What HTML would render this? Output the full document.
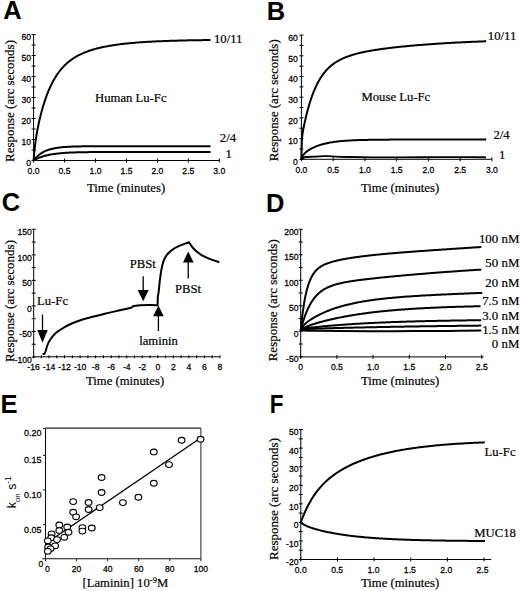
<!DOCTYPE html>
<html><head><meta charset="utf-8"><title>Figure</title>
<style>
html,body{margin:0;padding:0;background:#fff;}
body{width:520px;height:591px;overflow:hidden;}
svg{display:block;}
text{fill:#000;}
.tk{stroke:#000;stroke-width:0.25px;}
.sf{stroke:#000;stroke-width:0.2px;}
</style></head>
<body>
<svg width="520" height="591" viewBox="0 0 520 591">
<rect width="520" height="591" fill="#fff"/>
<text x="3.3" y="19" font-size="25.5" font-family='"Liberation Sans", sans-serif' font-weight="bold">A</text>
<line x1="33.6" y1="34.5" x2="33.6" y2="160.5" stroke="#000" stroke-width="1"/>
<line x1="31.6" y1="160.5" x2="35.6" y2="160.5" stroke="#000" stroke-width="1"/>
<line x1="31.6" y1="150" x2="35.6" y2="150" stroke="#000" stroke-width="1"/>
<line x1="31.6" y1="139.5" x2="35.6" y2="139.5" stroke="#000" stroke-width="1"/>
<line x1="31.6" y1="129" x2="35.6" y2="129" stroke="#000" stroke-width="1"/>
<line x1="31.6" y1="118.5" x2="35.6" y2="118.5" stroke="#000" stroke-width="1"/>
<line x1="31.6" y1="108" x2="35.6" y2="108" stroke="#000" stroke-width="1"/>
<line x1="31.6" y1="97.5" x2="35.6" y2="97.5" stroke="#000" stroke-width="1"/>
<line x1="31.6" y1="87" x2="35.6" y2="87" stroke="#000" stroke-width="1"/>
<line x1="31.6" y1="76.5" x2="35.6" y2="76.5" stroke="#000" stroke-width="1"/>
<line x1="31.6" y1="66" x2="35.6" y2="66" stroke="#000" stroke-width="1"/>
<line x1="31.6" y1="55.5" x2="35.6" y2="55.5" stroke="#000" stroke-width="1"/>
<line x1="31.6" y1="45" x2="35.6" y2="45" stroke="#000" stroke-width="1"/>
<line x1="31.6" y1="34.5" x2="35.6" y2="34.5" stroke="#000" stroke-width="1"/>
<text transform="translate(31.1 166.2) scale(1 1.1)" x="0" y="0" font-size="8.6" font-family='"Liberation Sans", sans-serif' class="tk" text-anchor="end">0</text>
<text transform="translate(31.1 145.2) scale(1 1.1)" x="0" y="0" font-size="8.6" font-family='"Liberation Sans", sans-serif' class="tk" text-anchor="end">10</text>
<text transform="translate(31.1 124.2) scale(1 1.1)" x="0" y="0" font-size="8.6" font-family='"Liberation Sans", sans-serif' class="tk" text-anchor="end">20</text>
<text transform="translate(31.1 103.2) scale(1 1.1)" x="0" y="0" font-size="8.6" font-family='"Liberation Sans", sans-serif' class="tk" text-anchor="end">30</text>
<text transform="translate(31.1 82.2) scale(1 1.1)" x="0" y="0" font-size="8.6" font-family='"Liberation Sans", sans-serif' class="tk" text-anchor="end">40</text>
<text transform="translate(31.1 61.2) scale(1 1.1)" x="0" y="0" font-size="8.6" font-family='"Liberation Sans", sans-serif' class="tk" text-anchor="end">50</text>
<text transform="translate(31.1 40.2) scale(1 1.1)" x="0" y="0" font-size="8.6" font-family='"Liberation Sans", sans-serif' class="tk" text-anchor="end">60</text>
<line x1="33.6" y1="160.5" x2="219.3" y2="160.5" stroke="#000" stroke-width="1"/>
<line x1="33.6" y1="158.5" x2="33.6" y2="162.5" stroke="#000" stroke-width="1"/>
<line x1="64.55" y1="158.5" x2="64.55" y2="162.5" stroke="#000" stroke-width="1"/>
<line x1="95.5" y1="158.5" x2="95.5" y2="162.5" stroke="#000" stroke-width="1"/>
<line x1="126.45" y1="158.5" x2="126.45" y2="162.5" stroke="#000" stroke-width="1"/>
<line x1="157.4" y1="158.5" x2="157.4" y2="162.5" stroke="#000" stroke-width="1"/>
<line x1="188.35" y1="158.5" x2="188.35" y2="162.5" stroke="#000" stroke-width="1"/>
<line x1="219.3" y1="158.5" x2="219.3" y2="162.5" stroke="#000" stroke-width="1"/>
<text transform="translate(33.6 174.4) scale(1 1.1)" x="0" y="0" font-size="8.6" font-family='"Liberation Sans", sans-serif' class="tk" text-anchor="middle">0.0</text>
<text transform="translate(64.55 174.4) scale(1 1.1)" x="0" y="0" font-size="8.6" font-family='"Liberation Sans", sans-serif' class="tk" text-anchor="middle">0.5</text>
<text transform="translate(95.5 174.4) scale(1 1.1)" x="0" y="0" font-size="8.6" font-family='"Liberation Sans", sans-serif' class="tk" text-anchor="middle">1.0</text>
<text transform="translate(126.45 174.4) scale(1 1.1)" x="0" y="0" font-size="8.6" font-family='"Liberation Sans", sans-serif' class="tk" text-anchor="middle">1.5</text>
<text transform="translate(157.4 174.4) scale(1 1.1)" x="0" y="0" font-size="8.6" font-family='"Liberation Sans", sans-serif' class="tk" text-anchor="middle">2.0</text>
<text transform="translate(188.35 174.4) scale(1 1.1)" x="0" y="0" font-size="8.6" font-family='"Liberation Sans", sans-serif' class="tk" text-anchor="middle">2.5</text>
<text transform="translate(219.3 174.4) scale(1 1.1)" x="0" y="0" font-size="8.6" font-family='"Liberation Sans", sans-serif' class="tk" text-anchor="middle">3.0</text>
<text x="13.7" y="162" font-size="13" font-family='"Liberation Serif", serif' class="sf" transform="rotate(-90 13.7 162)">Response (arc seconds)</text>
<text x="87" y="192.2" font-size="12.7" font-family='"Liberation Serif", serif' class="sf">Time (minutes)</text>
<text x="95" y="101.6" font-size="12.7" font-family='"Liberation Serif", serif' class="sf">Human Lu-Fc</text>
<text x="214" y="43" font-size="12.7" font-family='"Liberation Serif", serif' class="sf">10/11</text>
<text x="219.8" y="142.4" font-size="12.7" font-family='"Liberation Serif", serif' class="sf">2/4</text>
<text x="225.5" y="158" font-size="12.7" font-family='"Liberation Serif", serif' class="sf">1</text>
<path d="M33.6,160.5 L33.81,157.77 L34.03,155.25 L34.24,152.91 L34.45,150.73 L34.67,148.7 L34.88,146.79 L35.09,144.99 L35.31,143.28 L35.52,141.67 L35.73,140.13 L35.95,138.66 L36.16,137.25 L36.37,135.89 L36.59,134.59 L36.8,133.33 L37.02,132.11 L37.23,130.92 L37.44,129.77 L37.66,128.65 L37.87,127.56 L38.08,126.5 L38.3,125.45 L38.51,124.43 L38.72,123.44 L38.94,122.46 L39.15,121.5 L39.36,120.56 L39.58,119.63 L39.79,118.72 L40.86,114.37 L41.94,110.34 L43.01,106.59 L44.08,103.09 L45.16,99.82 L46.23,96.76 L47.31,93.89 L48.38,91.2 L49.45,88.67 L50.53,86.3 L51.6,84.08 L52.67,81.98 L53.75,80.01 L54.82,78.16 L55.89,76.42 L56.97,74.77 L58.04,73.22 L59.12,71.76 L60.19,70.38 L61.26,69.07 L62.34,67.84 L63.41,66.67 L64.48,65.57 L65.56,64.52 L66.63,63.53 L67.7,62.59 L68.78,61.7 L69.85,60.85 L70.93,60.04 L72,59.27 L73.07,58.54 L74.15,57.85 L75.22,57.18 L76.29,56.55 L77.37,55.95 L78.44,55.37 L79.51,54.82 L80.59,54.3 L81.66,53.79 L82.74,53.31 L83.81,52.85 L84.88,52.41 L85.96,51.98 L87.03,51.58 L88.1,51.19 L89.18,50.81 L90.25,50.45 L91.33,50.11 L92.4,49.77 L93.47,49.45 L94.55,49.14 L95.62,48.85 L96.69,48.56 L97.77,48.29 L98.84,48.02 L99.91,47.76 L100.99,47.52 L102.06,47.28 L103.14,47.05 L104.21,46.82 L105.28,46.61 L106.36,46.4 L107.43,46.2 L108.5,46.01 L109.58,45.82 L110.65,45.64 L111.72,45.46 L112.8,45.29 L113.87,45.12 L114.95,44.97 L116.02,44.81 L117.09,44.66 L118.17,44.52 L119.24,44.37 L120.31,44.24 L121.39,44.11 L122.46,43.98 L123.53,43.85 L124.61,43.73 L125.68,43.61 L126.76,43.5 L127.83,43.39 L128.9,43.28 L129.98,43.18 L131.05,43.08 L132.12,42.98 L133.2,42.89 L134.27,42.79 L135.34,42.7 L136.42,42.62 L137.49,42.53 L138.57,42.45 L139.64,42.37 L140.71,42.29 L141.79,42.22 L142.86,42.15 L143.93,42.07 L145.01,42 L146.08,41.94 L147.15,41.87 L148.23,41.81 L149.3,41.75 L150.38,41.69 L151.45,41.63 L152.52,41.57 L153.6,41.52 L154.67,41.46 L155.74,41.41 L156.82,41.36 L157.89,41.31 L158.96,41.26 L160.04,41.22 L161.11,41.17 L162.19,41.13 L163.26,41.09 L164.33,41.05 L165.41,41 L166.48,40.97 L167.55,40.93 L168.63,40.89 L169.7,40.85 L170.78,40.82 L171.85,40.78 L172.92,40.75 L174,40.72 L175.07,40.69 L176.14,40.66 L177.22,40.63 L178.29,40.6 L179.36,40.57 L180.44,40.54 L181.51,40.52 L182.59,40.49 L183.66,40.47 L184.73,40.44 L185.81,40.42 L186.88,40.39 L187.95,40.37 L189.03,40.35 L190.1,40.33 L191.17,40.31 L192.25,40.29 L193.32,40.27 L194.4,40.25 L195.47,40.23 L196.54,40.21 L197.62,40.19 L198.69,40.18 L199.76,40.16 L200.84,40.14 L201.91,40.13 L202.98,40.11 L204.06,40.1 L205.13,40.08 L206.21,40.07 L207.28,40.06 L208.35,40.04 L209.43,40.03 L210.5,40.02" fill="none" stroke="#000" stroke-width="2" stroke-linejoin="round" stroke-linecap="butt"/>
<path d="M33.6,160.5 L33.81,160.22 L34.03,159.95 L34.24,159.68 L34.45,159.42 L34.67,159.17 L34.88,158.92 L35.09,158.67 L35.31,158.43 L35.52,158.19 L35.73,157.96 L35.95,157.73 L36.16,157.51 L36.37,157.29 L36.59,157.07 L36.8,156.86 L37.02,156.65 L37.23,156.45 L37.44,156.25 L37.66,156.06 L37.87,155.87 L38.08,155.68 L38.3,155.5 L38.51,155.32 L38.72,155.14 L38.94,154.97 L39.15,154.8 L39.36,154.63 L39.58,154.46 L39.79,154.3 L40.86,153.54 L41.94,152.85 L43.01,152.23 L44.08,151.66 L45.16,151.15 L46.23,150.69 L47.31,150.26 L48.38,149.88 L49.45,149.54 L50.53,149.22 L51.6,148.94 L52.67,148.68 L53.75,148.45 L54.82,148.23 L55.89,148.04 L56.97,147.87 L58.04,147.71 L59.12,147.57 L60.19,147.44 L61.26,147.32 L62.34,147.21 L63.41,147.12 L64.48,147.03 L65.56,146.95 L66.63,146.88 L67.7,146.81 L68.78,146.76 L69.85,146.7 L70.93,146.65 L72,146.61 L73.07,146.57 L74.15,146.53 L75.22,146.5 L76.29,146.47 L77.37,146.44 L78.44,146.42 L79.51,146.4 L80.59,146.38 L81.66,146.36 L82.74,146.34 L83.81,146.33 L84.88,146.32 L85.96,146.3 L87.03,146.29 L88.1,146.28 L89.18,146.27 L90.25,146.26 L91.33,146.26 L92.4,146.25 L93.47,146.24 L94.55,146.24 L95.62,146.23 L96.69,146.23 L97.77,146.23 L98.84,146.22 L99.91,146.22 L100.99,146.21 L102.06,146.21 L103.14,146.21 L104.21,146.21 L105.28,146.21 L106.36,146.2 L107.43,146.2 L108.5,146.2 L109.58,146.2 L110.65,146.2 L111.72,146.2 L112.8,146.2 L113.87,146.19 L114.95,146.19 L116.02,146.19 L117.09,146.19 L118.17,146.19 L119.24,146.19 L120.31,146.19 L121.39,146.19 L122.46,146.19 L123.53,146.19 L124.61,146.19 L125.68,146.19 L126.76,146.19 L127.83,146.19 L128.9,146.19 L129.98,146.19 L131.05,146.19 L132.12,146.19 L133.2,146.19 L134.27,146.19 L135.34,146.19 L136.42,146.19 L137.49,146.19 L138.57,146.19 L139.64,146.19 L140.71,146.19 L141.79,146.19 L142.86,146.19 L143.93,146.19 L145.01,146.19 L146.08,146.19 L147.15,146.19 L148.23,146.19 L149.3,146.19 L150.38,146.19 L151.45,146.19 L152.52,146.19 L153.6,146.19 L154.67,146.19 L155.74,146.19 L156.82,146.19 L157.89,146.19 L158.96,146.19 L160.04,146.19 L161.11,146.19 L162.19,146.19 L163.26,146.19 L164.33,146.19 L165.41,146.19 L166.48,146.19 L167.55,146.19 L168.63,146.19 L169.7,146.19 L170.78,146.19 L171.85,146.18 L172.92,146.18 L174,146.18 L175.07,146.18 L176.14,146.18 L177.22,146.18 L178.29,146.18 L179.36,146.18 L180.44,146.18 L181.51,146.18 L182.59,146.18 L183.66,146.18 L184.73,146.18 L185.81,146.18 L186.88,146.18 L187.95,146.18 L189.03,146.18 L190.1,146.18 L191.17,146.18 L192.25,146.18 L193.32,146.18 L194.4,146.18 L195.47,146.18 L196.54,146.18 L197.62,146.18 L198.69,146.18 L199.76,146.18 L200.84,146.18 L201.91,146.18 L202.98,146.18 L204.06,146.18 L205.13,146.18 L206.21,146.18 L207.28,146.18 L208.35,146.18 L209.43,146.18 L210.5,146.18" fill="none" stroke="#000" stroke-width="2" stroke-linejoin="round" stroke-linecap="butt"/>
<path d="M33.6,160.5 L33.81,160.37 L34.03,160.25 L34.24,160.13 L34.45,160.01 L34.67,159.89 L34.88,159.77 L35.09,159.65 L35.31,159.54 L35.52,159.43 L35.73,159.32 L35.95,159.21 L36.16,159.1 L36.37,159 L36.59,158.89 L36.8,158.79 L37.02,158.69 L37.23,158.59 L37.44,158.49 L37.66,158.39 L37.87,158.3 L38.08,158.21 L38.3,158.11 L38.51,158.02 L38.72,157.93 L38.94,157.84 L39.15,157.76 L39.36,157.67 L39.58,157.59 L39.79,157.5 L40.86,157.1 L41.94,156.73 L43.01,156.39 L44.08,156.07 L45.16,155.77 L46.23,155.49 L47.31,155.24 L48.38,155 L49.45,154.78 L50.53,154.57 L51.6,154.38 L52.67,154.21 L53.75,154.04 L54.82,153.89 L55.89,153.75 L56.97,153.62 L58.04,153.5 L59.12,153.39 L60.19,153.28 L61.26,153.19 L62.34,153.1 L63.41,153.01 L64.48,152.93 L65.56,152.86 L66.63,152.8 L67.7,152.73 L68.78,152.68 L69.85,152.62 L70.93,152.57 L72,152.53 L73.07,152.49 L74.15,152.45 L75.22,152.41 L76.29,152.37 L77.37,152.34 L78.44,152.31 L79.51,152.29 L80.59,152.26 L81.66,152.24 L82.74,152.22 L83.81,152.2 L84.88,152.18 L85.96,152.16 L87.03,152.14 L88.1,152.13 L89.18,152.11 L90.25,152.1 L91.33,152.09 L92.4,152.08 L93.47,152.07 L94.55,152.06 L95.62,152.05 L96.69,152.04 L97.77,152.03 L98.84,152.03 L99.91,152.02 L100.99,152.01 L102.06,152.01 L103.14,152 L104.21,152 L105.28,151.99 L106.36,151.99 L107.43,151.99 L108.5,151.98 L109.58,151.98 L110.65,151.98 L111.72,151.97 L112.8,151.97 L113.87,151.97 L114.95,151.96 L116.02,151.96 L117.09,151.96 L118.17,151.96 L119.24,151.96 L120.31,151.96 L121.39,151.95 L122.46,151.95 L123.53,151.95 L124.61,151.95 L125.68,151.95 L126.76,151.95 L127.83,151.95 L128.9,151.95 L129.98,151.95 L131.05,151.94 L132.12,151.94 L133.2,151.94 L134.27,151.94 L135.34,151.94 L136.42,151.94 L137.49,151.94 L138.57,151.94 L139.64,151.94 L140.71,151.94 L141.79,151.94 L142.86,151.94 L143.93,151.94 L145.01,151.94 L146.08,151.94 L147.15,151.94 L148.23,151.94 L149.3,151.94 L150.38,151.94 L151.45,151.94 L152.52,151.94 L153.6,151.94 L154.67,151.94 L155.74,151.94 L156.82,151.94 L157.89,151.94 L158.96,151.94 L160.04,151.94 L161.11,151.94 L162.19,151.94 L163.26,151.94 L164.33,151.94 L165.41,151.94 L166.48,151.94 L167.55,151.94 L168.63,151.94 L169.7,151.94 L170.78,151.94 L171.85,151.94 L172.92,151.94 L174,151.94 L175.07,151.94 L176.14,151.94 L177.22,151.94 L178.29,151.94 L179.36,151.94 L180.44,151.94 L181.51,151.94 L182.59,151.94 L183.66,151.94 L184.73,151.94 L185.81,151.94 L186.88,151.94 L187.95,151.94 L189.03,151.94 L190.1,151.94 L191.17,151.94 L192.25,151.94 L193.32,151.94 L194.4,151.94 L195.47,151.94 L196.54,151.94 L197.62,151.94 L198.69,151.94 L199.76,151.94 L200.84,151.94 L201.91,151.94 L202.98,151.94 L204.06,151.94 L205.13,151.94 L206.21,151.94 L207.28,151.94 L208.35,151.94 L209.43,151.94 L210.5,151.94" fill="none" stroke="#000" stroke-width="2" stroke-linejoin="round" stroke-linecap="butt"/>
<text x="266.7" y="20" font-size="25.5" font-family='"Liberation Sans", sans-serif' font-weight="bold">B</text>
<line x1="301.4" y1="35.1" x2="301.4" y2="159.3" stroke="#000" stroke-width="1"/>
<line x1="299.4" y1="159.3" x2="303.4" y2="159.3" stroke="#000" stroke-width="1"/>
<line x1="299.4" y1="148.95" x2="303.4" y2="148.95" stroke="#000" stroke-width="1"/>
<line x1="299.4" y1="138.6" x2="303.4" y2="138.6" stroke="#000" stroke-width="1"/>
<line x1="299.4" y1="128.25" x2="303.4" y2="128.25" stroke="#000" stroke-width="1"/>
<line x1="299.4" y1="117.9" x2="303.4" y2="117.9" stroke="#000" stroke-width="1"/>
<line x1="299.4" y1="107.55" x2="303.4" y2="107.55" stroke="#000" stroke-width="1"/>
<line x1="299.4" y1="97.2" x2="303.4" y2="97.2" stroke="#000" stroke-width="1"/>
<line x1="299.4" y1="86.85" x2="303.4" y2="86.85" stroke="#000" stroke-width="1"/>
<line x1="299.4" y1="76.5" x2="303.4" y2="76.5" stroke="#000" stroke-width="1"/>
<line x1="299.4" y1="66.15" x2="303.4" y2="66.15" stroke="#000" stroke-width="1"/>
<line x1="299.4" y1="55.8" x2="303.4" y2="55.8" stroke="#000" stroke-width="1"/>
<line x1="299.4" y1="45.45" x2="303.4" y2="45.45" stroke="#000" stroke-width="1"/>
<line x1="299.4" y1="35.1" x2="303.4" y2="35.1" stroke="#000" stroke-width="1"/>
<text transform="translate(297.9 165) scale(1 1.1)" x="0" y="0" font-size="8.6" font-family='"Liberation Sans", sans-serif' class="tk" text-anchor="end">0</text>
<text transform="translate(297.9 144.3) scale(1 1.1)" x="0" y="0" font-size="8.6" font-family='"Liberation Sans", sans-serif' class="tk" text-anchor="end">10</text>
<text transform="translate(297.9 123.6) scale(1 1.1)" x="0" y="0" font-size="8.6" font-family='"Liberation Sans", sans-serif' class="tk" text-anchor="end">20</text>
<text transform="translate(297.9 102.9) scale(1 1.1)" x="0" y="0" font-size="8.6" font-family='"Liberation Sans", sans-serif' class="tk" text-anchor="end">30</text>
<text transform="translate(297.9 82.2) scale(1 1.1)" x="0" y="0" font-size="8.6" font-family='"Liberation Sans", sans-serif' class="tk" text-anchor="end">40</text>
<text transform="translate(297.9 61.5) scale(1 1.1)" x="0" y="0" font-size="8.6" font-family='"Liberation Sans", sans-serif' class="tk" text-anchor="end">50</text>
<text transform="translate(297.9 40.8) scale(1 1.1)" x="0" y="0" font-size="8.6" font-family='"Liberation Sans", sans-serif' class="tk" text-anchor="end">60</text>
<line x1="301.4" y1="159.3" x2="491.9" y2="159.3" stroke="#000" stroke-width="1"/>
<line x1="301.4" y1="157.3" x2="301.4" y2="161.3" stroke="#000" stroke-width="1"/>
<line x1="333.15" y1="157.3" x2="333.15" y2="161.3" stroke="#000" stroke-width="1"/>
<line x1="364.9" y1="157.3" x2="364.9" y2="161.3" stroke="#000" stroke-width="1"/>
<line x1="396.65" y1="157.3" x2="396.65" y2="161.3" stroke="#000" stroke-width="1"/>
<line x1="428.4" y1="157.3" x2="428.4" y2="161.3" stroke="#000" stroke-width="1"/>
<line x1="460.15" y1="157.3" x2="460.15" y2="161.3" stroke="#000" stroke-width="1"/>
<line x1="491.9" y1="157.3" x2="491.9" y2="161.3" stroke="#000" stroke-width="1"/>
<text transform="translate(301.4 173.3) scale(1 1.1)" x="0" y="0" font-size="8.6" font-family='"Liberation Sans", sans-serif' class="tk" text-anchor="middle">0.0</text>
<text transform="translate(333.15 173.3) scale(1 1.1)" x="0" y="0" font-size="8.6" font-family='"Liberation Sans", sans-serif' class="tk" text-anchor="middle">0.5</text>
<text transform="translate(364.9 173.3) scale(1 1.1)" x="0" y="0" font-size="8.6" font-family='"Liberation Sans", sans-serif' class="tk" text-anchor="middle">1.0</text>
<text transform="translate(396.65 173.3) scale(1 1.1)" x="0" y="0" font-size="8.6" font-family='"Liberation Sans", sans-serif' class="tk" text-anchor="middle">1.5</text>
<text transform="translate(428.4 173.3) scale(1 1.1)" x="0" y="0" font-size="8.6" font-family='"Liberation Sans", sans-serif' class="tk" text-anchor="middle">2.0</text>
<text transform="translate(460.15 173.3) scale(1 1.1)" x="0" y="0" font-size="8.6" font-family='"Liberation Sans", sans-serif' class="tk" text-anchor="middle">2.5</text>
<text transform="translate(491.9 173.3) scale(1 1.1)" x="0" y="0" font-size="8.6" font-family='"Liberation Sans", sans-serif' class="tk" text-anchor="middle">3.0</text>
<text x="278.3" y="161.3" font-size="13" font-family='"Liberation Serif", serif' class="sf" transform="rotate(-90 278.3 161.3)">Response (arc seconds)</text>
<text x="361" y="192.4" font-size="12.7" font-family='"Liberation Serif", serif' class="sf">Time (minutes)</text>
<text x="361.5" y="101.4" font-size="12.7" font-family='"Liberation Serif", serif' class="sf">Mouse Lu-Fc</text>
<text x="487.8" y="40.3" font-size="12.7" font-family='"Liberation Serif", serif' class="sf">10/11</text>
<text x="493.5" y="139.4" font-size="12.7" font-family='"Liberation Serif", serif' class="sf">2/4</text>
<text x="499" y="158.6" font-size="12.7" font-family='"Liberation Serif", serif' class="sf">1</text>
<path d="M301.4,159.3 L301.62,147.59 L301.84,141.42 L302.05,137.87 L302.27,135.58 L302.49,133.88 L302.71,132.48 L302.92,131.22 L303.14,130.04 L303.36,128.91 L303.58,127.81 L303.79,126.73 L304.01,125.67 L304.23,124.63 L304.45,123.61 L304.66,122.6 L304.88,121.6 L305.1,120.62 L305.32,119.66 L305.53,118.71 L305.75,117.77 L305.97,116.85 L306.19,115.94 L306.4,115.05 L306.62,114.17 L306.84,113.3 L307.06,112.44 L307.27,111.6 L307.49,110.77 L307.71,109.95 L308.83,105.93 L309.96,102.2 L311.08,98.75 L312.2,95.55 L313.32,92.58 L314.45,89.83 L315.57,87.28 L316.69,84.91 L317.81,82.71 L318.94,80.66 L320.06,78.76 L321.18,76.99 L322.3,75.34 L323.43,73.81 L324.55,72.38 L325.67,71.04 L326.79,69.79 L327.92,68.63 L329.04,67.53 L330.16,66.51 L331.28,65.55 L332.41,64.66 L333.53,63.81 L334.65,63.02 L335.77,62.27 L336.9,61.57 L338.02,60.91 L339.14,60.28 L340.26,59.69 L341.39,59.13 L342.51,58.6 L343.63,58.1 L344.76,57.62 L345.88,57.17 L347,56.73 L348.12,56.32 L349.25,55.93 L350.37,55.55 L351.49,55.2 L352.61,54.85 L353.74,54.52 L354.86,54.21 L355.98,53.9 L357.1,53.61 L358.23,53.33 L359.35,53.05 L360.47,52.79 L361.59,52.54 L362.72,52.29 L363.84,52.05 L364.96,51.82 L366.08,51.6 L367.21,51.38 L368.33,51.17 L369.45,50.97 L370.57,50.77 L371.7,50.57 L372.82,50.38 L373.94,50.2 L375.06,50.02 L376.19,49.84 L377.31,49.67 L378.43,49.5 L379.56,49.34 L380.68,49.18 L381.8,49.02 L382.92,48.86 L384.05,48.71 L385.17,48.56 L386.29,48.42 L387.41,48.27 L388.54,48.13 L389.66,47.99 L390.78,47.86 L391.9,47.72 L393.03,47.59 L394.15,47.46 L395.27,47.34 L396.39,47.21 L397.52,47.09 L398.64,46.97 L399.76,46.85 L400.88,46.73 L402.01,46.62 L403.13,46.5 L404.25,46.39 L405.37,46.28 L406.5,46.17 L407.62,46.06 L408.74,45.96 L409.86,45.85 L410.99,45.75 L412.11,45.65 L413.23,45.55 L414.35,45.45 L415.48,45.36 L416.6,45.26 L417.72,45.17 L418.85,45.07 L419.97,44.98 L421.09,44.89 L422.21,44.8 L423.34,44.72 L424.46,44.63 L425.58,44.54 L426.7,44.46 L427.83,44.38 L428.95,44.29 L430.07,44.21 L431.19,44.13 L432.32,44.05 L433.44,43.98 L434.56,43.9 L435.68,43.82 L436.81,43.75 L437.93,43.68 L439.05,43.6 L440.17,43.53 L441.3,43.46 L442.42,43.39 L443.54,43.32 L444.66,43.25 L445.79,43.19 L446.91,43.12 L448.03,43.06 L449.15,42.99 L450.28,42.93 L451.4,42.87 L452.52,42.8 L453.65,42.74 L454.77,42.68 L455.89,42.62 L457.01,42.56 L458.14,42.51 L459.26,42.45 L460.38,42.39 L461.5,42.34 L462.63,42.28 L463.75,42.23 L464.87,42.17 L465.99,42.12 L467.12,42.07 L468.24,42.02 L469.36,41.97 L470.48,41.92 L471.61,41.87 L472.73,41.82 L473.85,41.77 L474.97,41.72 L476.1,41.67 L477.22,41.63 L478.34,41.58 L479.46,41.54 L480.59,41.49 L481.71,41.45 L482.83,41.4 L483.95,41.36 L485.08,41.32 L486.2,41.28" fill="none" stroke="#000" stroke-width="2" stroke-linejoin="round" stroke-linecap="butt"/>
<path d="M301.4,159.3 L301.62,158.63 L301.84,158.03 L302.05,157.48 L302.27,156.98 L302.49,156.51 L302.71,156.09 L302.92,155.7 L303.14,155.33 L303.36,154.99 L303.58,154.67 L303.79,154.38 L304.01,154.1 L304.23,153.83 L304.45,153.58 L304.66,153.34 L304.88,153.11 L305.1,152.89 L305.32,152.69 L305.53,152.48 L305.75,152.29 L305.97,152.1 L306.19,151.92 L306.4,151.74 L306.62,151.57 L306.84,151.4 L307.06,151.24 L307.27,151.08 L307.49,150.92 L307.71,150.77 L308.83,150.03 L309.96,149.35 L311.08,148.72 L312.2,148.14 L313.32,147.59 L314.45,147.08 L315.57,146.61 L316.69,146.16 L317.81,145.74 L318.94,145.35 L320.06,144.98 L321.18,144.64 L322.3,144.31 L323.43,144.01 L324.55,143.73 L325.67,143.46 L326.79,143.21 L327.92,142.98 L329.04,142.76 L330.16,142.56 L331.28,142.37 L332.41,142.19 L333.53,142.02 L334.65,141.86 L335.77,141.71 L336.9,141.58 L338.02,141.45 L339.14,141.33 L340.26,141.21 L341.39,141.11 L342.51,141.01 L343.63,140.91 L344.76,140.83 L345.88,140.74 L347,140.67 L348.12,140.59 L349.25,140.53 L350.37,140.46 L351.49,140.4 L352.61,140.35 L353.74,140.3 L354.86,140.25 L355.98,140.2 L357.1,140.16 L358.23,140.12 L359.35,140.08 L360.47,140.05 L361.59,140.01 L362.72,139.98 L363.84,139.96 L364.96,139.93 L366.08,139.9 L367.21,139.88 L368.33,139.86 L369.45,139.84 L370.57,139.82 L371.7,139.8 L372.82,139.78 L373.94,139.76 L375.06,139.75 L376.19,139.74 L377.31,139.72 L378.43,139.71 L379.56,139.7 L380.68,139.69 L381.8,139.68 L382.92,139.67 L384.05,139.66 L385.17,139.65 L386.29,139.64 L387.41,139.64 L388.54,139.63 L389.66,139.62 L390.78,139.62 L391.9,139.61 L393.03,139.61 L394.15,139.6 L395.27,139.6 L396.39,139.59 L397.52,139.59 L398.64,139.58 L399.76,139.58 L400.88,139.58 L402.01,139.57 L403.13,139.57 L404.25,139.57 L405.37,139.56 L406.5,139.56 L407.62,139.56 L408.74,139.56 L409.86,139.56 L410.99,139.55 L412.11,139.55 L413.23,139.55 L414.35,139.55 L415.48,139.55 L416.6,139.55 L417.72,139.55 L418.85,139.54 L419.97,139.54 L421.09,139.54 L422.21,139.54 L423.34,139.54 L424.46,139.54 L425.58,139.54 L426.7,139.54 L427.83,139.54 L428.95,139.54 L430.07,139.54 L431.19,139.54 L432.32,139.53 L433.44,139.53 L434.56,139.53 L435.68,139.53 L436.81,139.53 L437.93,139.53 L439.05,139.53 L440.17,139.53 L441.3,139.53 L442.42,139.53 L443.54,139.53 L444.66,139.53 L445.79,139.53 L446.91,139.53 L448.03,139.53 L449.15,139.53 L450.28,139.53 L451.4,139.53 L452.52,139.53 L453.65,139.53 L454.77,139.53 L455.89,139.53 L457.01,139.53 L458.14,139.53 L459.26,139.53 L460.38,139.53 L461.5,139.53 L462.63,139.53 L463.75,139.53 L464.87,139.53 L465.99,139.53 L467.12,139.53 L468.24,139.53 L469.36,139.53 L470.48,139.53 L471.61,139.53 L472.73,139.53 L473.85,139.53 L474.97,139.53 L476.1,139.53 L477.22,139.53 L478.34,139.53 L479.46,139.53 L480.59,139.53 L481.71,139.53 L482.83,139.53 L483.95,139.53 L485.08,139.53 L486.2,139.53" fill="none" stroke="#000" stroke-width="2" stroke-linejoin="round" stroke-linecap="butt"/>
<path d="M301.4,158.8 C302.13,158.5 303.53,157.35 305.8,157 C308.07,156.65 311.97,156.85 315,156.7 C318.03,156.55 321.17,156.15 324,156.1 C326.83,156.05 327.45,156.25 332,156.4 C336.55,156.55 344.38,156.85 351.3,157 C358.22,157.15 365.38,157.25 373.5,157.3 C381.62,157.35 388.92,157.32 400,157.3 C411.08,157.28 428.33,157.23 440,157.2 C451.67,157.17 462.33,157.08 470,157.1 C477.67,157.12 483.33,157.27 486,157.3" fill="none" stroke="#000" stroke-width="1.8" stroke-linejoin="round" stroke-linecap="butt"/>
<text x="1.8" y="211.4" font-size="25.5" font-family='"Liberation Sans", sans-serif' font-weight="bold">C</text>
<line x1="33.7" y1="229.25" x2="33.7" y2="356.8" stroke="#000" stroke-width="1"/>
<line x1="31.7" y1="357" x2="35.7" y2="357" stroke="#000" stroke-width="1"/>
<line x1="31.7" y1="344.22" x2="35.7" y2="344.22" stroke="#000" stroke-width="1"/>
<line x1="31.7" y1="331.45" x2="35.7" y2="331.45" stroke="#000" stroke-width="1"/>
<line x1="31.7" y1="318.67" x2="35.7" y2="318.67" stroke="#000" stroke-width="1"/>
<line x1="31.7" y1="305.9" x2="35.7" y2="305.9" stroke="#000" stroke-width="1"/>
<line x1="31.7" y1="293.12" x2="35.7" y2="293.12" stroke="#000" stroke-width="1"/>
<line x1="31.7" y1="280.35" x2="35.7" y2="280.35" stroke="#000" stroke-width="1"/>
<line x1="31.7" y1="267.57" x2="35.7" y2="267.57" stroke="#000" stroke-width="1"/>
<line x1="31.7" y1="254.8" x2="35.7" y2="254.8" stroke="#000" stroke-width="1"/>
<line x1="31.7" y1="242.02" x2="35.7" y2="242.02" stroke="#000" stroke-width="1"/>
<line x1="31.7" y1="229.25" x2="35.7" y2="229.25" stroke="#000" stroke-width="1"/>
<text transform="translate(31.8 362.7) scale(1 1.1)" x="0" y="0" font-size="8.6" font-family='"Liberation Sans", sans-serif' class="tk" text-anchor="end">-100</text>
<text transform="translate(31.8 337.15) scale(1 1.1)" x="0" y="0" font-size="8.6" font-family='"Liberation Sans", sans-serif' class="tk" text-anchor="end">-50</text>
<text transform="translate(31.8 311.6) scale(1 1.1)" x="0" y="0" font-size="8.6" font-family='"Liberation Sans", sans-serif' class="tk" text-anchor="end">0</text>
<text transform="translate(31.8 286.05) scale(1 1.1)" x="0" y="0" font-size="8.6" font-family='"Liberation Sans", sans-serif' class="tk" text-anchor="end">50</text>
<text transform="translate(31.8 260.5) scale(1 1.1)" x="0" y="0" font-size="8.6" font-family='"Liberation Sans", sans-serif' class="tk" text-anchor="end">100</text>
<text transform="translate(31.8 234.95) scale(1 1.1)" x="0" y="0" font-size="8.6" font-family='"Liberation Sans", sans-serif' class="tk" text-anchor="end">150</text>
<line x1="33.7" y1="356.8" x2="219.96" y2="356.8" stroke="#000" stroke-width="1"/>
<line x1="33.48" y1="355.3" x2="33.48" y2="358.3" stroke="#000" stroke-width="1"/>
<line x1="41.25" y1="355.3" x2="41.25" y2="358.3" stroke="#000" stroke-width="1"/>
<line x1="49.02" y1="355.3" x2="49.02" y2="358.3" stroke="#000" stroke-width="1"/>
<line x1="56.79" y1="355.3" x2="56.79" y2="358.3" stroke="#000" stroke-width="1"/>
<line x1="64.56" y1="355.3" x2="64.56" y2="358.3" stroke="#000" stroke-width="1"/>
<line x1="72.33" y1="355.3" x2="72.33" y2="358.3" stroke="#000" stroke-width="1"/>
<line x1="80.1" y1="355.3" x2="80.1" y2="358.3" stroke="#000" stroke-width="1"/>
<line x1="87.87" y1="355.3" x2="87.87" y2="358.3" stroke="#000" stroke-width="1"/>
<line x1="95.64" y1="355.3" x2="95.64" y2="358.3" stroke="#000" stroke-width="1"/>
<line x1="103.41" y1="355.3" x2="103.41" y2="358.3" stroke="#000" stroke-width="1"/>
<line x1="111.18" y1="355.3" x2="111.18" y2="358.3" stroke="#000" stroke-width="1"/>
<line x1="118.95" y1="355.3" x2="118.95" y2="358.3" stroke="#000" stroke-width="1"/>
<line x1="126.72" y1="355.3" x2="126.72" y2="358.3" stroke="#000" stroke-width="1"/>
<line x1="134.49" y1="355.3" x2="134.49" y2="358.3" stroke="#000" stroke-width="1"/>
<line x1="142.26" y1="355.3" x2="142.26" y2="358.3" stroke="#000" stroke-width="1"/>
<line x1="150.03" y1="355.3" x2="150.03" y2="358.3" stroke="#000" stroke-width="1"/>
<line x1="157.8" y1="355.3" x2="157.8" y2="358.3" stroke="#000" stroke-width="1"/>
<line x1="165.57" y1="355.3" x2="165.57" y2="358.3" stroke="#000" stroke-width="1"/>
<line x1="173.34" y1="355.3" x2="173.34" y2="358.3" stroke="#000" stroke-width="1"/>
<line x1="181.11" y1="355.3" x2="181.11" y2="358.3" stroke="#000" stroke-width="1"/>
<line x1="188.88" y1="355.3" x2="188.88" y2="358.3" stroke="#000" stroke-width="1"/>
<line x1="196.65" y1="355.3" x2="196.65" y2="358.3" stroke="#000" stroke-width="1"/>
<line x1="204.42" y1="355.3" x2="204.42" y2="358.3" stroke="#000" stroke-width="1"/>
<line x1="212.19" y1="355.3" x2="212.19" y2="358.3" stroke="#000" stroke-width="1"/>
<line x1="219.96" y1="355.3" x2="219.96" y2="358.3" stroke="#000" stroke-width="1"/>
<text transform="translate(33.48 369.8) scale(1 1.1)" x="0" y="0" font-size="8.6" font-family='"Liberation Sans", sans-serif' class="tk" text-anchor="middle">-16</text>
<text transform="translate(49.02 369.8) scale(1 1.1)" x="0" y="0" font-size="8.6" font-family='"Liberation Sans", sans-serif' class="tk" text-anchor="middle">-14</text>
<text transform="translate(64.56 369.8) scale(1 1.1)" x="0" y="0" font-size="8.6" font-family='"Liberation Sans", sans-serif' class="tk" text-anchor="middle">-12</text>
<text transform="translate(80.1 369.8) scale(1 1.1)" x="0" y="0" font-size="8.6" font-family='"Liberation Sans", sans-serif' class="tk" text-anchor="middle">-10</text>
<text transform="translate(95.64 369.8) scale(1 1.1)" x="0" y="0" font-size="8.6" font-family='"Liberation Sans", sans-serif' class="tk" text-anchor="middle">-8</text>
<text transform="translate(111.18 369.8) scale(1 1.1)" x="0" y="0" font-size="8.6" font-family='"Liberation Sans", sans-serif' class="tk" text-anchor="middle">-6</text>
<text transform="translate(126.72 369.8) scale(1 1.1)" x="0" y="0" font-size="8.6" font-family='"Liberation Sans", sans-serif' class="tk" text-anchor="middle">-4</text>
<text transform="translate(142.26 369.8) scale(1 1.1)" x="0" y="0" font-size="8.6" font-family='"Liberation Sans", sans-serif' class="tk" text-anchor="middle">-2</text>
<text transform="translate(157.8 369.8) scale(1 1.1)" x="0" y="0" font-size="8.6" font-family='"Liberation Sans", sans-serif' class="tk" text-anchor="middle">0</text>
<text transform="translate(173.34 369.8) scale(1 1.1)" x="0" y="0" font-size="8.6" font-family='"Liberation Sans", sans-serif' class="tk" text-anchor="middle">2</text>
<text transform="translate(188.88 369.8) scale(1 1.1)" x="0" y="0" font-size="8.6" font-family='"Liberation Sans", sans-serif' class="tk" text-anchor="middle">4</text>
<text transform="translate(204.42 369.8) scale(1 1.1)" x="0" y="0" font-size="8.6" font-family='"Liberation Sans", sans-serif' class="tk" text-anchor="middle">6</text>
<text transform="translate(219.96 369.8) scale(1 1.1)" x="0" y="0" font-size="8.6" font-family='"Liberation Sans", sans-serif' class="tk" text-anchor="middle">8</text>
<text x="13.7" y="362" font-size="13" font-family='"Liberation Serif", serif' class="sf" transform="rotate(-90 13.7 362)">Response (arc seconds)</text>
<text x="86" y="384.7" font-size="12.7" font-family='"Liberation Serif", serif' class="sf">Time (minutes)</text>
<text x="37" y="305.3" font-size="12.7" font-family='"Liberation Serif", serif' class="sf">Lu-Fc</text>
<text x="129.8" y="268" font-size="12.7" font-family='"Liberation Serif", serif' class="sf">PBSt</text>
<text x="139.2" y="345" font-size="12.7" font-family='"Liberation Serif", serif' class="sf">laminin</text>
<text x="175" y="293" font-size="12.7" font-family='"Liberation Serif", serif' class="sf">PBSt</text>
<line x1="42.5" y1="314.5" x2="42.5" y2="331" stroke="#000" stroke-width="1.3"/>
<polygon points="37.3,330 47.7,330 42.5,342.8" fill="#000"/>
<line x1="143.2" y1="276.2" x2="143.2" y2="291" stroke="#000" stroke-width="1.3"/>
<polygon points="137.7,290 148.7,290 143.2,301.3" fill="#000"/>
<line x1="158.4" y1="315" x2="158.4" y2="331" stroke="#000" stroke-width="1.3"/>
<polygon points="153.1,316.3 163.7,316.3 158.4,305.6" fill="#000"/>
<line x1="188.2" y1="261" x2="188.2" y2="278.6" stroke="#000" stroke-width="1.3"/>
<polygon points="183,262.4 193.6,262.4 188.2,251.4" fill="#000"/>
<path d="M42.5,354.3 C42.83,354.22 44.17,353.88 44.5,353.8 C44.67,353.42 45,352.97 45.5,351.5 C46,350.03 46.75,346.92 47.5,345 C48.25,343.08 48.75,341.88 50,340 C51.25,338.12 53.33,335.42 55,333.75 C56.67,332.08 57.92,331.38 60,330 C62.08,328.62 64.58,326.96 67.5,325.5 C70.42,324.04 73.75,322.58 77.5,321.25 C81.25,319.92 85.42,318.75 90,317.5 C94.58,316.25 100,314.95 105,313.75 C110,312.55 115.67,311.29 120,310.3 C124.33,309.31 128.83,308.47 131,307.8 C133.17,307.13 131.5,306.72 133,306.3 C134.5,305.88 137.17,305.5 140,305.3 C142.83,305.1 147.07,305.12 150,305.1 C152.93,305.08 156.33,305.18 157.6,305.2 C157.63,303.83 157.77,298.37 157.8,297 C157.95,296.08 158.37,294.2 158.7,291.5 C159.03,288.8 159.37,284.35 159.8,280.8 C160.23,277.25 160.7,273.38 161.3,270.2 C161.9,267.02 162.53,264.17 163.4,261.7 C164.27,259.23 165.1,257.33 166.5,255.4 C167.9,253.47 169.68,251.68 171.8,250.1 C173.92,248.52 176.55,247.13 179.2,245.9 C181.85,244.67 186.07,243.32 187.7,242.7 C189.33,242.08 188.78,242.28 189,242.2 C189.67,243.17 191.1,245.98 193,248 C194.9,250.02 197.75,252.53 200.4,254.3 C203.05,256.07 205.73,257.28 208.9,258.6 C212.07,259.92 217.65,261.6 219.4,262.2" fill="none" stroke="#000" stroke-width="2" stroke-linejoin="round" stroke-linecap="butt"/>
<text x="266" y="212.2" font-size="25.5" font-family='"Liberation Sans", sans-serif' font-weight="bold">D</text>
<line x1="300.7" y1="229.25" x2="300.7" y2="356.9" stroke="#000" stroke-width="1"/>
<line x1="298.7" y1="356.75" x2="302.7" y2="356.75" stroke="#000" stroke-width="1"/>
<line x1="298.7" y1="344" x2="302.7" y2="344" stroke="#000" stroke-width="1"/>
<line x1="298.7" y1="331.25" x2="302.7" y2="331.25" stroke="#000" stroke-width="1"/>
<line x1="298.7" y1="318.5" x2="302.7" y2="318.5" stroke="#000" stroke-width="1"/>
<line x1="298.7" y1="305.75" x2="302.7" y2="305.75" stroke="#000" stroke-width="1"/>
<line x1="298.7" y1="293" x2="302.7" y2="293" stroke="#000" stroke-width="1"/>
<line x1="298.7" y1="280.25" x2="302.7" y2="280.25" stroke="#000" stroke-width="1"/>
<line x1="298.7" y1="267.5" x2="302.7" y2="267.5" stroke="#000" stroke-width="1"/>
<line x1="298.7" y1="254.75" x2="302.7" y2="254.75" stroke="#000" stroke-width="1"/>
<line x1="298.7" y1="242" x2="302.7" y2="242" stroke="#000" stroke-width="1"/>
<line x1="298.7" y1="229.25" x2="302.7" y2="229.25" stroke="#000" stroke-width="1"/>
<text transform="translate(298.5 362.45) scale(1 1.1)" x="0" y="0" font-size="8.6" font-family='"Liberation Sans", sans-serif' class="tk" text-anchor="end">-50</text>
<text transform="translate(298.5 336.95) scale(1 1.1)" x="0" y="0" font-size="8.6" font-family='"Liberation Sans", sans-serif' class="tk" text-anchor="end">0</text>
<text transform="translate(298.5 311.45) scale(1 1.1)" x="0" y="0" font-size="8.6" font-family='"Liberation Sans", sans-serif' class="tk" text-anchor="end">50</text>
<text transform="translate(298.5 285.95) scale(1 1.1)" x="0" y="0" font-size="8.6" font-family='"Liberation Sans", sans-serif' class="tk" text-anchor="end">100</text>
<text transform="translate(298.5 260.45) scale(1 1.1)" x="0" y="0" font-size="8.6" font-family='"Liberation Sans", sans-serif' class="tk" text-anchor="end">150</text>
<text transform="translate(298.5 234.95) scale(1 1.1)" x="0" y="0" font-size="8.6" font-family='"Liberation Sans", sans-serif' class="tk" text-anchor="end">200</text>
<line x1="300.7" y1="356.9" x2="483.7" y2="356.9" stroke="#000" stroke-width="1"/>
<line x1="300.7" y1="354.9" x2="300.7" y2="358.9" stroke="#000" stroke-width="1"/>
<line x1="336.9" y1="354.9" x2="336.9" y2="358.9" stroke="#000" stroke-width="1"/>
<line x1="373.1" y1="354.9" x2="373.1" y2="358.9" stroke="#000" stroke-width="1"/>
<line x1="409.3" y1="354.9" x2="409.3" y2="358.9" stroke="#000" stroke-width="1"/>
<line x1="445.5" y1="354.9" x2="445.5" y2="358.9" stroke="#000" stroke-width="1"/>
<line x1="481.7" y1="354.9" x2="481.7" y2="358.9" stroke="#000" stroke-width="1"/>
<text transform="translate(300.7 369.8) scale(1 1.1)" x="0" y="0" font-size="8.6" font-family='"Liberation Sans", sans-serif' class="tk" text-anchor="middle">0</text>
<text transform="translate(336.9 369.8) scale(1 1.1)" x="0" y="0" font-size="8.6" font-family='"Liberation Sans", sans-serif' class="tk" text-anchor="middle">0.5</text>
<text transform="translate(373.1 369.8) scale(1 1.1)" x="0" y="0" font-size="8.6" font-family='"Liberation Sans", sans-serif' class="tk" text-anchor="middle">1.0</text>
<text transform="translate(409.3 369.8) scale(1 1.1)" x="0" y="0" font-size="8.6" font-family='"Liberation Sans", sans-serif' class="tk" text-anchor="middle">1.5</text>
<text transform="translate(445.5 369.8) scale(1 1.1)" x="0" y="0" font-size="8.6" font-family='"Liberation Sans", sans-serif' class="tk" text-anchor="middle">2.0</text>
<text transform="translate(481.7 369.8) scale(1 1.1)" x="0" y="0" font-size="8.6" font-family='"Liberation Sans", sans-serif' class="tk" text-anchor="middle">2.5</text>
<text x="277.5" y="361.3" font-size="13" font-family='"Liberation Serif", serif' class="sf" transform="rotate(-90 277.5 361.3)">Response (arc seconds)</text>
<text x="361" y="384.6" font-size="12.7" font-family='"Liberation Serif", serif' class="sf">Time (minutes)</text>
<text x="519.4" y="242.7" font-size="12.9" font-family='"Liberation Serif", serif' class="sf" text-anchor="end">100 nM</text>
<text x="519.4" y="266.8" font-size="12.9" font-family='"Liberation Serif", serif' class="sf" text-anchor="end">50 nM</text>
<text x="519.4" y="286.9" font-size="12.9" font-family='"Liberation Serif", serif' class="sf" text-anchor="end">20 nM</text>
<text x="519.4" y="305.4" font-size="12.9" font-family='"Liberation Serif", serif' class="sf" text-anchor="end">7.5 nM</text>
<text x="519.4" y="319.7" font-size="12.9" font-family='"Liberation Serif", serif' class="sf" text-anchor="end">3.0 nM</text>
<text x="519.4" y="333.9" font-size="12.9" font-family='"Liberation Serif", serif' class="sf" text-anchor="end">1.5 nM</text>
<text x="519.4" y="348.1" font-size="12.9" font-family='"Liberation Serif", serif' class="sf" text-anchor="end">0 nM</text>
<path d="M300.7,330.3 L300.95,327.76 L301.2,325.32 L301.45,322.99 L301.7,320.74 L301.95,318.59 L302.2,316.52 L302.45,314.53 L302.7,312.63 L302.95,310.8 L303.2,309.04 L303.45,307.35 L303.7,305.73 L303.95,304.18 L304.2,302.68 L304.44,301.24 L304.69,299.86 L304.94,298.54 L305.19,297.26 L305.44,296.04 L305.69,294.86 L305.94,293.72 L306.19,292.64 L306.44,291.59 L306.69,290.58 L306.94,289.61 L307.19,288.68 L307.44,287.78 L307.69,286.92 L307.94,286.09 L309.03,282.8 L310.12,280.01 L311.21,277.63 L312.3,275.6 L313.39,273.84 L314.48,272.32 L315.57,271.01 L316.66,269.86 L317.75,268.84 L318.84,267.95 L319.93,267.15 L321.02,266.44 L322.11,265.8 L323.2,265.22 L324.29,264.69 L325.39,264.2 L326.48,263.75 L327.57,263.33 L328.66,262.94 L329.75,262.58 L330.84,262.23 L331.93,261.91 L333.02,261.6 L334.11,261.31 L335.2,261.03 L336.29,260.76 L337.38,260.51 L338.47,260.26 L339.56,260.02 L340.65,259.79 L341.74,259.57 L342.83,259.35 L343.92,259.15 L345.01,258.94 L346.1,258.75 L347.19,258.56 L348.28,258.37 L349.37,258.19 L350.46,258.02 L351.55,257.84 L352.64,257.68 L353.73,257.51 L354.82,257.35 L355.91,257.2 L357,257.04 L358.09,256.89 L359.18,256.75 L360.28,256.6 L361.37,256.46 L362.46,256.33 L363.55,256.19 L364.64,256.06 L365.73,255.93 L366.82,255.8 L367.91,255.67 L369,255.55 L370.09,255.43 L371.18,255.31 L372.27,255.19 L373.36,255.08 L374.45,254.96 L375.54,254.85 L376.63,254.74 L377.72,254.63 L378.81,254.52 L379.9,254.41 L380.99,254.31 L382.08,254.21 L383.17,254.1 L384.26,254 L385.35,253.9 L386.44,253.8 L387.53,253.71 L388.62,253.61 L389.71,253.51 L390.8,253.42 L391.89,253.33 L392.98,253.23 L394.07,253.14 L395.17,253.05 L396.26,252.96 L397.35,252.87 L398.44,252.78 L399.53,252.69 L400.62,252.6 L401.71,252.52 L402.8,252.43 L403.89,252.35 L404.98,252.26 L406.07,252.18 L407.16,252.09 L408.25,252.01 L409.34,251.93 L410.43,251.84 L411.52,251.76 L412.61,251.68 L413.7,251.6 L414.79,251.52 L415.88,251.44 L416.97,251.36 L418.06,251.28 L419.15,251.2 L420.24,251.12 L421.33,251.04 L422.42,250.96 L423.51,250.89 L424.6,250.81 L425.69,250.73 L426.78,250.65 L427.87,250.58 L428.96,250.5 L430.06,250.42 L431.15,250.35 L432.24,250.27 L433.33,250.2 L434.42,250.12 L435.51,250.05 L436.6,249.97 L437.69,249.9 L438.78,249.82 L439.87,249.75 L440.96,249.67 L442.05,249.6 L443.14,249.53 L444.23,249.45 L445.32,249.38 L446.41,249.3 L447.5,249.23 L448.59,249.16 L449.68,249.09 L450.77,249.01 L451.86,248.94 L452.95,248.87 L454.04,248.79 L455.13,248.72 L456.22,248.65 L457.31,248.58 L458.4,248.5 L459.49,248.43 L460.58,248.36 L461.67,248.29 L462.76,248.22 L463.85,248.15 L464.95,248.07 L466.04,248 L467.13,247.93 L468.22,247.86 L469.31,247.79 L470.4,247.72 L471.49,247.65 L472.58,247.57 L473.67,247.5 L474.76,247.43 L475.85,247.36 L476.94,247.29 L478.03,247.22 L479.12,247.15 L480.21,247.08 L481.3,247.01" fill="none" stroke="#000" stroke-width="2" stroke-linejoin="round" stroke-linecap="butt"/>
<path d="M300.7,330.3 L300.95,329.31 L301.2,328.34 L301.45,327.39 L301.7,326.46 L301.95,325.55 L302.2,324.66 L302.45,323.79 L302.7,322.94 L302.95,322.11 L303.2,321.29 L303.45,320.49 L303.7,319.71 L303.95,318.95 L304.2,318.2 L304.44,317.47 L304.69,316.75 L304.94,316.05 L305.19,315.36 L305.44,314.69 L305.69,314.03 L305.94,313.38 L306.19,312.75 L306.44,312.13 L306.69,311.53 L306.94,310.94 L307.19,310.36 L307.44,309.79 L307.69,309.23 L307.94,308.69 L309.03,306.44 L310.12,304.39 L311.21,302.52 L312.3,300.81 L313.39,299.25 L314.48,297.81 L315.57,296.5 L316.66,295.3 L317.75,294.2 L318.84,293.19 L319.93,292.26 L321.02,291.4 L322.11,290.61 L323.2,289.88 L324.29,289.21 L325.39,288.59 L326.48,288.01 L327.57,287.47 L328.66,286.98 L329.75,286.51 L330.84,286.08 L331.93,285.67 L333.02,285.3 L334.11,284.94 L335.2,284.61 L336.29,284.29 L337.38,283.99 L338.47,283.71 L339.56,283.44 L340.65,283.19 L341.74,282.95 L342.83,282.72 L343.92,282.5 L345.01,282.28 L346.1,282.08 L347.19,281.89 L348.28,281.7 L349.37,281.51 L350.46,281.34 L351.55,281.17 L352.64,281 L353.73,280.84 L354.82,280.68 L355.91,280.53 L357,280.38 L358.09,280.23 L359.18,280.09 L360.28,279.94 L361.37,279.81 L362.46,279.67 L363.55,279.54 L364.64,279.4 L365.73,279.27 L366.82,279.14 L367.91,279.02 L369,278.89 L370.09,278.77 L371.18,278.65 L372.27,278.53 L373.36,278.41 L374.45,278.29 L375.54,278.17 L376.63,278.05 L377.72,277.94 L378.81,277.82 L379.9,277.71 L380.99,277.6 L382.08,277.49 L383.17,277.38 L384.26,277.27 L385.35,277.16 L386.44,277.05 L387.53,276.94 L388.62,276.83 L389.71,276.73 L390.8,276.62 L391.89,276.52 L392.98,276.41 L394.07,276.31 L395.17,276.21 L396.26,276.1 L397.35,276 L398.44,275.9 L399.53,275.8 L400.62,275.7 L401.71,275.6 L402.8,275.5 L403.89,275.4 L404.98,275.31 L406.07,275.21 L407.16,275.11 L408.25,275.02 L409.34,274.92 L410.43,274.82 L411.52,274.73 L412.61,274.64 L413.7,274.54 L414.79,274.45 L415.88,274.36 L416.97,274.26 L418.06,274.17 L419.15,274.08 L420.24,273.99 L421.33,273.9 L422.42,273.81 L423.51,273.72 L424.6,273.63 L425.69,273.54 L426.78,273.46 L427.87,273.37 L428.96,273.28 L430.06,273.19 L431.15,273.11 L432.24,273.02 L433.33,272.94 L434.42,272.85 L435.51,272.77 L436.6,272.68 L437.69,272.6 L438.78,272.52 L439.87,272.44 L440.96,272.35 L442.05,272.27 L443.14,272.19 L444.23,272.11 L445.32,272.03 L446.41,271.95 L447.5,271.87 L448.59,271.79 L449.68,271.71 L450.77,271.63 L451.86,271.55 L452.95,271.48 L454.04,271.4 L455.13,271.32 L456.22,271.25 L457.31,271.17 L458.4,271.09 L459.49,271.02 L460.58,270.94 L461.67,270.87 L462.76,270.8 L463.85,270.72 L464.95,270.65 L466.04,270.58 L467.13,270.5 L468.22,270.43 L469.31,270.36 L470.4,270.29 L471.49,270.22 L472.58,270.15 L473.67,270.07 L474.76,270 L475.85,269.94 L476.94,269.87 L478.03,269.8 L479.12,269.73 L480.21,269.66 L481.3,269.59" fill="none" stroke="#000" stroke-width="2" stroke-linejoin="round" stroke-linecap="butt"/>
<path d="M300.7,330.3 L300.95,329.75 L301.2,329.24 L301.45,328.76 L301.7,328.31 L301.95,327.88 L302.2,327.48 L302.45,327.1 L302.7,326.73 L302.95,326.39 L303.2,326.06 L303.45,325.75 L303.7,325.45 L303.95,325.16 L304.2,324.88 L304.44,324.62 L304.69,324.36 L304.94,324.11 L305.19,323.87 L305.44,323.63 L305.69,323.4 L305.94,323.18 L306.19,322.96 L306.44,322.75 L306.69,322.54 L306.94,322.34 L307.19,322.14 L307.44,321.94 L307.69,321.75 L307.94,321.56 L309.04,320.77 L310.13,320.01 L311.23,319.3 L312.32,318.61 L313.42,317.95 L314.52,317.31 L315.61,316.69 L316.71,316.09 L317.8,315.51 L318.9,314.94 L320,314.39 L321.09,313.86 L322.19,313.34 L323.28,312.84 L324.38,312.35 L325.48,311.87 L326.57,311.41 L327.67,310.96 L328.76,310.53 L329.86,310.1 L330.96,309.69 L332.05,309.29 L333.15,308.9 L334.24,308.52 L335.34,308.15 L336.44,307.79 L337.53,307.45 L338.63,307.11 L339.72,306.78 L340.82,306.45 L341.92,306.14 L343.01,305.84 L344.11,305.54 L345.2,305.25 L346.3,304.97 L347.4,304.7 L348.49,304.43 L349.59,304.17 L350.68,303.92 L351.78,303.68 L352.87,303.44 L353.97,303.2 L355.07,302.98 L356.16,302.76 L357.26,302.54 L358.35,302.33 L359.45,302.13 L360.55,301.93 L361.64,301.73 L362.74,301.54 L363.83,301.36 L364.93,301.17 L366.03,301 L367.12,300.83 L368.22,300.66 L369.31,300.49 L370.41,300.33 L371.51,300.18 L372.6,300.03 L373.7,299.88 L374.79,299.73 L375.89,299.59 L376.99,299.45 L378.08,299.31 L379.18,299.18 L380.27,299.05 L381.37,298.92 L382.47,298.8 L383.56,298.68 L384.66,298.56 L385.75,298.44 L386.85,298.33 L387.95,298.22 L389.04,298.11 L390.14,298 L391.23,297.89 L392.33,297.79 L393.43,297.69 L394.52,297.59 L395.62,297.5 L396.71,297.4 L397.81,297.31 L398.91,297.22 L400,297.13 L401.1,297.04 L402.19,296.95 L403.29,296.87 L404.39,296.78 L405.48,296.7 L406.58,296.62 L407.67,296.54 L408.77,296.46 L409.87,296.39 L410.96,296.31 L412.06,296.24 L413.15,296.16 L414.25,296.09 L415.35,296.02 L416.44,295.95 L417.54,295.88 L418.63,295.82 L419.73,295.75 L420.83,295.68 L421.92,295.62 L423.02,295.55 L424.11,295.49 L425.21,295.43 L426.31,295.37 L427.4,295.31 L428.5,295.25 L429.59,295.19 L430.69,295.13 L431.79,295.07 L432.88,295.02 L433.98,294.96 L435.07,294.9 L436.17,294.85 L437.27,294.79 L438.36,294.74 L439.46,294.69 L440.55,294.63 L441.65,294.58 L442.74,294.53 L443.84,294.48 L444.94,294.43 L446.03,294.38 L447.13,294.33 L448.22,294.28 L449.32,294.23 L450.42,294.18 L451.51,294.13 L452.61,294.09 L453.7,294.04 L454.8,293.99 L455.9,293.95 L456.99,293.9 L458.09,293.85 L459.18,293.81 L460.28,293.76 L461.38,293.72 L462.47,293.67 L463.57,293.63 L464.66,293.58 L465.76,293.54 L466.86,293.5 L467.95,293.45 L469.05,293.41 L470.14,293.37 L471.24,293.33 L472.34,293.28 L473.43,293.24 L474.53,293.2 L475.62,293.16 L476.72,293.12 L477.82,293.07 L478.91,293.03 L480.01,292.99 L481.1,292.95 L482.2,292.91" fill="none" stroke="#000" stroke-width="2" stroke-linejoin="round" stroke-linecap="butt"/>
<path d="M300.7,330.3 L300.95,330.07 L301.2,329.86 L301.45,329.65 L301.7,329.45 L301.95,329.26 L302.2,329.08 L302.45,328.9 L302.7,328.74 L302.95,328.57 L303.2,328.41 L303.45,328.26 L303.7,328.11 L303.95,327.97 L304.2,327.83 L304.44,327.7 L304.69,327.57 L304.94,327.44 L305.19,327.31 L305.44,327.19 L305.69,327.07 L305.94,326.96 L306.19,326.84 L306.44,326.73 L306.69,326.62 L306.94,326.51 L307.19,326.41 L307.44,326.31 L307.69,326.2 L307.94,326.1 L309.03,325.69 L310.11,325.29 L311.2,324.91 L312.28,324.55 L313.37,324.19 L314.45,323.85 L315.54,323.52 L316.62,323.19 L317.71,322.88 L318.79,322.57 L319.88,322.26 L320.96,321.96 L322.05,321.67 L323.13,321.38 L324.22,321.09 L325.3,320.82 L326.39,320.54 L327.48,320.27 L328.56,320.01 L329.65,319.75 L330.73,319.5 L331.82,319.24 L332.9,319 L333.99,318.76 L335.07,318.52 L336.16,318.28 L337.24,318.05 L338.33,317.83 L339.41,317.61 L340.5,317.39 L341.58,317.17 L342.67,316.96 L343.75,316.76 L344.84,316.55 L345.92,316.35 L347.01,316.15 L348.1,315.96 L349.18,315.77 L350.27,315.58 L351.35,315.4 L352.44,315.22 L353.52,315.04 L354.61,314.87 L355.69,314.7 L356.78,314.53 L357.86,314.36 L358.95,314.2 L360.03,314.04 L361.12,313.88 L362.2,313.73 L363.29,313.58 L364.37,313.43 L365.46,313.28 L366.55,313.14 L367.63,312.99 L368.72,312.85 L369.8,312.72 L370.89,312.58 L371.97,312.45 L373.06,312.32 L374.14,312.19 L375.23,312.07 L376.31,311.94 L377.4,311.82 L378.48,311.7 L379.57,311.59 L380.65,311.47 L381.74,311.36 L382.82,311.25 L383.91,311.14 L385,311.03 L386.08,310.92 L387.17,310.82 L388.25,310.72 L389.34,310.62 L390.42,310.52 L391.51,310.42 L392.59,310.33 L393.68,310.23 L394.76,310.14 L395.85,310.05 L396.93,309.96 L398.02,309.87 L399.1,309.79 L400.19,309.7 L401.27,309.62 L402.36,309.54 L403.44,309.46 L404.53,309.38 L405.62,309.3 L406.7,309.23 L407.79,309.15 L408.87,309.08 L409.96,309 L411.04,308.93 L412.13,308.86 L413.21,308.79 L414.3,308.73 L415.38,308.66 L416.47,308.6 L417.55,308.53 L418.64,308.47 L419.72,308.41 L420.81,308.35 L421.89,308.29 L422.98,308.23 L424.07,308.17 L425.15,308.11 L426.24,308.06 L427.32,308 L428.41,307.95 L429.49,307.9 L430.58,307.84 L431.66,307.79 L432.75,307.74 L433.83,307.69 L434.92,307.64 L436,307.6 L437.09,307.55 L438.17,307.5 L439.26,307.46 L440.34,307.41 L441.43,307.37 L442.52,307.33 L443.6,307.28 L444.69,307.24 L445.77,307.2 L446.86,307.16 L447.94,307.12 L449.03,307.08 L450.11,307.04 L451.2,307.01 L452.28,306.97 L453.37,306.93 L454.45,306.9 L455.54,306.86 L456.62,306.83 L457.71,306.79 L458.79,306.76 L459.88,306.73 L460.96,306.7 L462.05,306.66 L463.14,306.63 L464.22,306.6 L465.31,306.57 L466.39,306.54 L467.48,306.51 L468.56,306.49 L469.65,306.46 L470.73,306.43 L471.82,306.4 L472.9,306.38 L473.99,306.35 L475.07,306.33 L476.16,306.3 L477.24,306.28 L478.33,306.25 L479.41,306.23 L480.5,306.2" fill="none" stroke="#000" stroke-width="2" stroke-linejoin="round" stroke-linecap="butt"/>
<path d="M300.7,330.3 L300.95,329.68 L301.2,329.3 L301.45,329.07 L301.7,328.92 L301.95,328.82 L302.2,328.75 L302.45,328.69 L302.7,328.65 L302.95,328.61 L303.2,328.57 L303.45,328.54 L303.7,328.51 L303.95,328.47 L304.2,328.44 L304.44,328.41 L304.69,328.38 L304.94,328.35 L305.19,328.32 L305.44,328.29 L305.69,328.26 L305.94,328.23 L306.19,328.2 L306.44,328.17 L306.69,328.14 L306.94,328.11 L307.19,328.08 L307.44,328.05 L307.69,328.02 L307.94,327.99 L309.03,327.86 L310.12,327.74 L311.21,327.61 L312.3,327.49 L313.39,327.37 L314.48,327.25 L315.57,327.14 L316.66,327.02 L317.75,326.91 L318.84,326.8 L319.93,326.69 L321.02,326.58 L322.11,326.47 L323.2,326.37 L324.29,326.27 L325.39,326.16 L326.48,326.06 L327.57,325.96 L328.66,325.87 L329.75,325.77 L330.84,325.68 L331.93,325.58 L333.02,325.49 L334.11,325.4 L335.2,325.31 L336.29,325.23 L337.38,325.14 L338.47,325.05 L339.56,324.97 L340.65,324.89 L341.74,324.81 L342.83,324.73 L343.92,324.65 L345.01,324.57 L346.1,324.49 L347.19,324.42 L348.28,324.34 L349.37,324.27 L350.46,324.2 L351.55,324.13 L352.64,324.06 L353.73,323.99 L354.82,323.92 L355.91,323.85 L357,323.79 L358.09,323.72 L359.18,323.66 L360.28,323.59 L361.37,323.53 L362.46,323.47 L363.55,323.41 L364.64,323.35 L365.73,323.29 L366.82,323.24 L367.91,323.18 L369,323.12 L370.09,323.07 L371.18,323.01 L372.27,322.96 L373.36,322.91 L374.45,322.86 L375.54,322.8 L376.63,322.75 L377.72,322.7 L378.81,322.65 L379.9,322.61 L380.99,322.56 L382.08,322.51 L383.17,322.47 L384.26,322.42 L385.35,322.38 L386.44,322.33 L387.53,322.29 L388.62,322.25 L389.71,322.2 L390.8,322.16 L391.89,322.12 L392.98,322.08 L394.07,322.04 L395.17,322 L396.26,321.96 L397.35,321.93 L398.44,321.89 L399.53,321.85 L400.62,321.82 L401.71,321.78 L402.8,321.74 L403.89,321.71 L404.98,321.68 L406.07,321.64 L407.16,321.61 L408.25,321.58 L409.34,321.54 L410.43,321.51 L411.52,321.48 L412.61,321.45 L413.7,321.42 L414.79,321.39 L415.88,321.36 L416.97,321.33 L418.06,321.3 L419.15,321.27 L420.24,321.25 L421.33,321.22 L422.42,321.19 L423.51,321.17 L424.6,321.14 L425.69,321.11 L426.78,321.09 L427.87,321.06 L428.96,321.04 L430.06,321.01 L431.15,320.99 L432.24,320.97 L433.33,320.94 L434.42,320.92 L435.51,320.9 L436.6,320.88 L437.69,320.85 L438.78,320.83 L439.87,320.81 L440.96,320.79 L442.05,320.77 L443.14,320.75 L444.23,320.73 L445.32,320.71 L446.41,320.69 L447.5,320.67 L448.59,320.65 L449.68,320.63 L450.77,320.62 L451.86,320.6 L452.95,320.58 L454.04,320.56 L455.13,320.55 L456.22,320.53 L457.31,320.51 L458.4,320.5 L459.49,320.48 L460.58,320.46 L461.67,320.45 L462.76,320.43 L463.85,320.42 L464.95,320.4 L466.04,320.39 L467.13,320.37 L468.22,320.36 L469.31,320.34 L470.4,320.33 L471.49,320.32 L472.58,320.3 L473.67,320.29 L474.76,320.28 L475.85,320.26 L476.94,320.25 L478.03,320.24 L479.12,320.23 L480.21,320.21 L481.3,320.2" fill="none" stroke="#000" stroke-width="2" stroke-linejoin="round" stroke-linecap="butt"/>
<path d="M300.7,330.3 L300.95,330.22 L301.2,330.14 L301.45,330.06 L301.7,329.99 L301.95,329.93 L302.2,329.86 L302.45,329.8 L302.7,329.75 L302.95,329.69 L303.2,329.64 L303.45,329.6 L303.7,329.55 L303.95,329.51 L304.2,329.47 L304.44,329.43 L304.69,329.39 L304.94,329.36 L305.19,329.32 L305.44,329.29 L305.69,329.26 L305.94,329.23 L306.19,329.2 L306.44,329.18 L306.69,329.15 L306.94,329.13 L307.19,329.11 L307.44,329.08 L307.69,329.06 L307.94,329.04 L309.03,328.96 L310.12,328.9 L311.21,328.84 L312.3,328.78 L313.39,328.73 L314.48,328.69 L315.57,328.65 L316.66,328.61 L317.75,328.58 L318.84,328.54 L319.93,328.51 L321.02,328.47 L322.11,328.44 L323.2,328.41 L324.29,328.38 L325.39,328.35 L326.48,328.32 L327.57,328.28 L328.66,328.25 L329.75,328.23 L330.84,328.2 L331.93,328.17 L333.02,328.14 L334.11,328.11 L335.2,328.08 L336.29,328.05 L337.38,328.02 L338.47,328 L339.56,327.97 L340.65,327.94 L341.74,327.91 L342.83,327.89 L343.92,327.86 L345.01,327.83 L346.1,327.81 L347.19,327.78 L348.28,327.75 L349.37,327.73 L350.46,327.7 L351.55,327.68 L352.64,327.65 L353.73,327.62 L354.82,327.6 L355.91,327.57 L357,327.55 L358.09,327.53 L359.18,327.5 L360.28,327.48 L361.37,327.45 L362.46,327.43 L363.55,327.4 L364.64,327.38 L365.73,327.36 L366.82,327.33 L367.91,327.31 L369,327.29 L370.09,327.27 L371.18,327.24 L372.27,327.22 L373.36,327.2 L374.45,327.18 L375.54,327.15 L376.63,327.13 L377.72,327.11 L378.81,327.09 L379.9,327.07 L380.99,327.05 L382.08,327.02 L383.17,327 L384.26,326.98 L385.35,326.96 L386.44,326.94 L387.53,326.92 L388.62,326.9 L389.71,326.88 L390.8,326.86 L391.89,326.84 L392.98,326.82 L394.07,326.8 L395.17,326.78 L396.26,326.76 L397.35,326.74 L398.44,326.72 L399.53,326.7 L400.62,326.69 L401.71,326.67 L402.8,326.65 L403.89,326.63 L404.98,326.61 L406.07,326.59 L407.16,326.57 L408.25,326.56 L409.34,326.54 L410.43,326.52 L411.52,326.5 L412.61,326.49 L413.7,326.47 L414.79,326.45 L415.88,326.43 L416.97,326.42 L418.06,326.4 L419.15,326.38 L420.24,326.37 L421.33,326.35 L422.42,326.33 L423.51,326.32 L424.6,326.3 L425.69,326.29 L426.78,326.27 L427.87,326.25 L428.96,326.24 L430.06,326.22 L431.15,326.21 L432.24,326.19 L433.33,326.18 L434.42,326.16 L435.51,326.15 L436.6,326.13 L437.69,326.12 L438.78,326.1 L439.87,326.09 L440.96,326.07 L442.05,326.06 L443.14,326.04 L444.23,326.03 L445.32,326.01 L446.41,326 L447.5,325.99 L448.59,325.97 L449.68,325.96 L450.77,325.94 L451.86,325.93 L452.95,325.92 L454.04,325.9 L455.13,325.89 L456.22,325.88 L457.31,325.86 L458.4,325.85 L459.49,325.84 L460.58,325.82 L461.67,325.81 L462.76,325.8 L463.85,325.79 L464.95,325.77 L466.04,325.76 L467.13,325.75 L468.22,325.74 L469.31,325.72 L470.4,325.71 L471.49,325.7 L472.58,325.69 L473.67,325.68 L474.76,325.66 L475.85,325.65 L476.94,325.64 L478.03,325.63 L479.12,325.62 L480.21,325.61 L481.3,325.59" fill="none" stroke="#000" stroke-width="2" stroke-linejoin="round" stroke-linecap="butt"/>
<path d="M300.7,330.3 C303.42,330.38 310.45,330.67 317,330.8 C323.55,330.93 330.82,331.03 340,331.1 C349.18,331.17 359.6,331.2 372.1,331.2 C384.6,331.2 402.32,331.15 415,331.1 C427.68,331.05 437.15,331 448.2,330.9 C459.25,330.8 475.78,330.57 481.3,330.5" fill="none" stroke="#000" stroke-width="2" stroke-linejoin="round" stroke-linecap="butt"/>
<text x="0.4" y="412.9" font-size="25.5" font-family='"Liberation Sans", sans-serif' font-weight="bold">E</text>
<line x1="45.5" y1="428.2" x2="200.9" y2="428.2" stroke="#222" stroke-width="1.2"/>
<line x1="200.9" y1="428.2" x2="200.9" y2="558.8" stroke="#222" stroke-width="1"/>
<line x1="45.5" y1="428.2" x2="45.5" y2="558.8" stroke="#111" stroke-width="1.1"/>
<line x1="42.2" y1="558.8" x2="200.9" y2="558.8" stroke="#111" stroke-width="1.1"/>
<line x1="43" y1="428.4" x2="45.5" y2="428.4" stroke="#222" stroke-width="1"/>
<text transform="translate(41.6 435.8) scale(1 1.1)" x="0" y="0" font-size="9" font-family='"Liberation Sans", sans-serif' class="tk" text-anchor="end">0.20</text>
<line x1="43" y1="455.4" x2="45.5" y2="455.4" stroke="#222" stroke-width="1"/>
<text transform="translate(41.6 462.9) scale(1 1.1)" x="0" y="0" font-size="9" font-family='"Liberation Sans", sans-serif' class="tk" text-anchor="end">0.15</text>
<line x1="43" y1="489.8" x2="45.5" y2="489.8" stroke="#222" stroke-width="1"/>
<text transform="translate(41.6 497.5) scale(1 1.1)" x="0" y="0" font-size="9" font-family='"Liberation Sans", sans-serif' class="tk" text-anchor="end">0.10</text>
<line x1="43" y1="524.6" x2="45.5" y2="524.6" stroke="#222" stroke-width="1"/>
<text transform="translate(41.6 533.3) scale(1 1.1)" x="0" y="0" font-size="9" font-family='"Liberation Sans", sans-serif' class="tk" text-anchor="end">0.05</text>
<text transform="translate(43.2 566.9) scale(1 1.1)" x="0" y="0" font-size="8.6" font-family='"Liberation Sans", sans-serif' class="tk" text-anchor="end">0</text>
<line x1="45.5" y1="558.8" x2="45.5" y2="561.3" stroke="#222" stroke-width="1"/>
<text transform="translate(47.3 572) scale(1 1.1)" x="0" y="0" font-size="8.6" font-family='"Liberation Sans", sans-serif' class="tk" text-anchor="middle">0</text>
<line x1="76.58" y1="558.8" x2="76.58" y2="561.3" stroke="#222" stroke-width="1"/>
<text transform="translate(76.58 572) scale(1 1.1)" x="0" y="0" font-size="8.6" font-family='"Liberation Sans", sans-serif' class="tk" text-anchor="middle">20</text>
<line x1="107.66" y1="558.8" x2="107.66" y2="561.3" stroke="#222" stroke-width="1"/>
<text transform="translate(107.66 572) scale(1 1.1)" x="0" y="0" font-size="8.6" font-family='"Liberation Sans", sans-serif' class="tk" text-anchor="middle">40</text>
<line x1="138.74" y1="558.8" x2="138.74" y2="561.3" stroke="#222" stroke-width="1"/>
<text transform="translate(138.74 572) scale(1 1.1)" x="0" y="0" font-size="8.6" font-family='"Liberation Sans", sans-serif' class="tk" text-anchor="middle">60</text>
<line x1="169.82" y1="558.8" x2="169.82" y2="561.3" stroke="#222" stroke-width="1"/>
<text transform="translate(169.82 572) scale(1 1.1)" x="0" y="0" font-size="8.6" font-family='"Liberation Sans", sans-serif' class="tk" text-anchor="middle">80</text>
<line x1="200.9" y1="558.8" x2="200.9" y2="561.3" stroke="#222" stroke-width="1"/>
<text transform="translate(200.9 572) scale(1 1.1)" x="0" y="0" font-size="8.6" font-family='"Liberation Sans", sans-serif' class="tk" text-anchor="middle">100</text>
<line x1="45.5" y1="543.7" x2="200.6" y2="438" stroke="#000" stroke-width="1.3"/>
<ellipse cx="101.6" cy="492.5" rx="3.35" ry="2.85" fill="#fff" stroke="#000" stroke-width="1.15"/>
<ellipse cx="73.2" cy="501.6" rx="3.35" ry="2.85" fill="#fff" stroke="#000" stroke-width="1.15"/>
<ellipse cx="88.6" cy="502.4" rx="3.35" ry="2.85" fill="#fff" stroke="#000" stroke-width="1.15"/>
<ellipse cx="99.7" cy="507.6" rx="3.35" ry="2.85" fill="#fff" stroke="#000" stroke-width="1.15"/>
<ellipse cx="88.6" cy="509.5" rx="3.35" ry="2.85" fill="#fff" stroke="#000" stroke-width="1.15"/>
<ellipse cx="73.2" cy="512.2" rx="3.35" ry="2.85" fill="#fff" stroke="#000" stroke-width="1.15"/>
<ellipse cx="76.1" cy="516.8" rx="3.35" ry="2.85" fill="#fff" stroke="#000" stroke-width="1.15"/>
<ellipse cx="59.3" cy="525" rx="3.35" ry="2.85" fill="#fff" stroke="#000" stroke-width="1.15"/>
<ellipse cx="67.2" cy="527" rx="3.35" ry="2.85" fill="#fff" stroke="#000" stroke-width="1.15"/>
<ellipse cx="82.4" cy="527.6" rx="3.35" ry="2.85" fill="#fff" stroke="#000" stroke-width="1.15"/>
<ellipse cx="91.8" cy="528" rx="3.35" ry="2.85" fill="#fff" stroke="#000" stroke-width="1.15"/>
<ellipse cx="82.4" cy="531.1" rx="3.35" ry="2.85" fill="#fff" stroke="#000" stroke-width="1.15"/>
<ellipse cx="59.3" cy="530.4" rx="3.35" ry="2.85" fill="#fff" stroke="#000" stroke-width="1.15"/>
<ellipse cx="68.5" cy="532.2" rx="3.35" ry="2.85" fill="#fff" stroke="#000" stroke-width="1.15"/>
<ellipse cx="51.6" cy="533.8" rx="3.35" ry="2.85" fill="#fff" stroke="#000" stroke-width="1.15"/>
<ellipse cx="51.2" cy="537.7" rx="3.35" ry="2.85" fill="#fff" stroke="#000" stroke-width="1.15"/>
<ellipse cx="64.3" cy="537.3" rx="3.35" ry="2.85" fill="#fff" stroke="#000" stroke-width="1.15"/>
<ellipse cx="57" cy="539.6" rx="3.35" ry="2.85" fill="#fff" stroke="#000" stroke-width="1.15"/>
<ellipse cx="47.8" cy="540.8" rx="3.35" ry="2.85" fill="#fff" stroke="#000" stroke-width="1.15"/>
<ellipse cx="55.1" cy="545.8" rx="3.35" ry="2.85" fill="#fff" stroke="#000" stroke-width="1.15"/>
<ellipse cx="48.2" cy="546.9" rx="3.35" ry="2.85" fill="#fff" stroke="#000" stroke-width="1.15"/>
<ellipse cx="50.5" cy="548.8" rx="3.35" ry="2.85" fill="#fff" stroke="#000" stroke-width="1.15"/>
<ellipse cx="47.8" cy="551.2" rx="3.35" ry="2.85" fill="#fff" stroke="#000" stroke-width="1.15"/>
<ellipse cx="181.6" cy="440.2" rx="3.35" ry="2.85" fill="#fff" stroke="#000" stroke-width="1.15"/>
<ellipse cx="200.6" cy="439.3" rx="3.35" ry="2.85" fill="#fff" stroke="#000" stroke-width="1.15"/>
<ellipse cx="153.8" cy="451.9" rx="3.35" ry="2.85" fill="#fff" stroke="#000" stroke-width="1.15"/>
<ellipse cx="169" cy="464.6" rx="3.35" ry="2.85" fill="#fff" stroke="#000" stroke-width="1.15"/>
<ellipse cx="101.6" cy="477.5" rx="3.35" ry="2.85" fill="#fff" stroke="#000" stroke-width="1.15"/>
<ellipse cx="153.8" cy="483.2" rx="3.35" ry="2.85" fill="#fff" stroke="#000" stroke-width="1.15"/>
<ellipse cx="138.4" cy="497.3" rx="3.35" ry="2.85" fill="#fff" stroke="#000" stroke-width="1.15"/>
<ellipse cx="122.9" cy="502.6" rx="3.35" ry="2.85" fill="#fff" stroke="#000" stroke-width="1.15"/>
<g transform="translate(15.8 508.2) rotate(-90)"><text x="0" y="0" font-size="12.4" font-family='"Liberation Sans", sans-serif'>k<tspan font-size="7.8" dy="4.4">on</tspan><tspan dy="-4.4" font-size="12.4"> s</tspan><tspan font-size="8.2" dy="-5">-1</tspan></text></g>
<text x="82.5" y="586.8" font-size="12.7" font-family='"Liberation Serif", serif' class="sf">[Laminin] 10<tspan font-size="8.5" dy="-3.8">-9</tspan><tspan dy="3.8">M</tspan></text>
<text transform="translate(269.8 413.3) scale(0.88 1)" x="0" y="0" font-size="25.5" font-family='"Liberation Sans", sans-serif' font-weight="bold">F</text>
<line x1="300.8" y1="429.6" x2="300.8" y2="559.5" stroke="#000" stroke-width="1"/>
<line x1="298.8" y1="559.52" x2="302.8" y2="559.52" stroke="#000" stroke-width="1"/>
<line x1="298.8" y1="550.24" x2="302.8" y2="550.24" stroke="#000" stroke-width="1"/>
<line x1="298.8" y1="540.96" x2="302.8" y2="540.96" stroke="#000" stroke-width="1"/>
<line x1="298.8" y1="531.68" x2="302.8" y2="531.68" stroke="#000" stroke-width="1"/>
<line x1="298.8" y1="522.4" x2="302.8" y2="522.4" stroke="#000" stroke-width="1"/>
<line x1="298.8" y1="513.12" x2="302.8" y2="513.12" stroke="#000" stroke-width="1"/>
<line x1="298.8" y1="503.84" x2="302.8" y2="503.84" stroke="#000" stroke-width="1"/>
<line x1="298.8" y1="494.56" x2="302.8" y2="494.56" stroke="#000" stroke-width="1"/>
<line x1="298.8" y1="485.28" x2="302.8" y2="485.28" stroke="#000" stroke-width="1"/>
<line x1="298.8" y1="476" x2="302.8" y2="476" stroke="#000" stroke-width="1"/>
<line x1="298.8" y1="466.72" x2="302.8" y2="466.72" stroke="#000" stroke-width="1"/>
<line x1="298.8" y1="457.44" x2="302.8" y2="457.44" stroke="#000" stroke-width="1"/>
<line x1="298.8" y1="448.16" x2="302.8" y2="448.16" stroke="#000" stroke-width="1"/>
<line x1="298.8" y1="438.88" x2="302.8" y2="438.88" stroke="#000" stroke-width="1"/>
<line x1="298.8" y1="429.6" x2="302.8" y2="429.6" stroke="#000" stroke-width="1"/>
<text transform="translate(298.5 565.22) scale(1 1.1)" x="0" y="0" font-size="8.6" font-family='"Liberation Sans", sans-serif' class="tk" text-anchor="end">-20</text>
<text transform="translate(298.5 546.66) scale(1 1.1)" x="0" y="0" font-size="8.6" font-family='"Liberation Sans", sans-serif' class="tk" text-anchor="end">-10</text>
<text transform="translate(298.5 528.1) scale(1 1.1)" x="0" y="0" font-size="8.6" font-family='"Liberation Sans", sans-serif' class="tk" text-anchor="end">0</text>
<text transform="translate(298.5 509.54) scale(1 1.1)" x="0" y="0" font-size="8.6" font-family='"Liberation Sans", sans-serif' class="tk" text-anchor="end">10</text>
<text transform="translate(298.5 490.98) scale(1 1.1)" x="0" y="0" font-size="8.6" font-family='"Liberation Sans", sans-serif' class="tk" text-anchor="end">20</text>
<text transform="translate(298.5 472.42) scale(1 1.1)" x="0" y="0" font-size="8.6" font-family='"Liberation Sans", sans-serif' class="tk" text-anchor="end">30</text>
<text transform="translate(298.5 453.86) scale(1 1.1)" x="0" y="0" font-size="8.6" font-family='"Liberation Sans", sans-serif' class="tk" text-anchor="end">40</text>
<text transform="translate(298.5 435.3) scale(1 1.1)" x="0" y="0" font-size="8.6" font-family='"Liberation Sans", sans-serif' class="tk" text-anchor="end">50</text>
<line x1="300.8" y1="559.5" x2="491.2" y2="559.5" stroke="#000" stroke-width="1"/>
<line x1="300.8" y1="557.5" x2="300.8" y2="561.5" stroke="#000" stroke-width="1"/>
<line x1="337.45" y1="557.5" x2="337.45" y2="561.5" stroke="#000" stroke-width="1"/>
<line x1="374.1" y1="557.5" x2="374.1" y2="561.5" stroke="#000" stroke-width="1"/>
<line x1="410.75" y1="557.5" x2="410.75" y2="561.5" stroke="#000" stroke-width="1"/>
<line x1="447.4" y1="557.5" x2="447.4" y2="561.5" stroke="#000" stroke-width="1"/>
<line x1="484.05" y1="557.5" x2="484.05" y2="561.5" stroke="#000" stroke-width="1"/>
<text transform="translate(300.8 572.6) scale(1 1.1)" x="0" y="0" font-size="8.6" font-family='"Liberation Sans", sans-serif' class="tk" text-anchor="middle">0.0</text>
<text transform="translate(337.15 572.6) scale(1 1.1)" x="0" y="0" font-size="8.6" font-family='"Liberation Sans", sans-serif' class="tk" text-anchor="middle">0.5</text>
<text transform="translate(373.5 572.6) scale(1 1.1)" x="0" y="0" font-size="8.6" font-family='"Liberation Sans", sans-serif' class="tk" text-anchor="middle">1.0</text>
<text transform="translate(409.85 572.6) scale(1 1.1)" x="0" y="0" font-size="8.6" font-family='"Liberation Sans", sans-serif' class="tk" text-anchor="middle">1.5</text>
<text transform="translate(446.2 572.6) scale(1 1.1)" x="0" y="0" font-size="8.6" font-family='"Liberation Sans", sans-serif' class="tk" text-anchor="middle">2.0</text>
<text transform="translate(482.55 572.6) scale(1 1.1)" x="0" y="0" font-size="8.6" font-family='"Liberation Sans", sans-serif' class="tk" text-anchor="middle">2.5</text>
<text x="278.3" y="560" font-size="13" font-family='"Liberation Serif", serif' class="sf" transform="rotate(-90 278.3 560)">Response (arc seconds)</text>
<text x="361" y="587.2" font-size="12.7" font-family='"Liberation Serif", serif' class="sf">Time (minutes)</text>
<text x="484.5" y="456" font-size="12.7" font-family='"Liberation Serif", serif' class="sf">Lu-Fc</text>
<text x="474.3" y="537" font-size="12.7" font-family='"Liberation Serif", serif' class="sf">MUC18</text>
<path d="M300.8,522.4 L301.05,521.71 L301.3,521.02 L301.55,520.35 L301.8,519.68 L302.05,519.02 L302.3,518.37 L302.55,517.73 L302.8,517.1 L303.05,516.47 L303.3,515.86 L303.55,515.25 L303.8,514.65 L304.05,514.06 L304.3,513.47 L304.56,512.89 L304.81,512.32 L305.06,511.76 L305.31,511.2 L305.56,510.65 L305.81,510.11 L306.06,509.57 L306.31,509.05 L306.56,508.52 L306.81,508.01 L307.06,507.5 L307.31,506.99 L307.56,506.49 L307.81,506 L308.06,505.52 L309.17,503.43 L310.28,501.44 L311.39,499.56 L312.51,497.77 L313.62,496.06 L314.73,494.44 L315.84,492.88 L316.95,491.4 L318.06,489.99 L319.18,488.63 L320.29,487.33 L321.4,486.09 L322.51,484.89 L323.62,483.74 L324.73,482.64 L325.85,481.58 L326.96,480.55 L328.07,479.57 L329.18,478.62 L330.29,477.7 L331.4,476.81 L332.51,475.96 L333.63,475.13 L334.74,474.32 L335.85,473.55 L336.96,472.79 L338.07,472.06 L339.18,471.35 L340.3,470.66 L341.41,469.99 L342.52,469.34 L343.63,468.71 L344.74,468.1 L345.85,467.5 L346.97,466.91 L348.08,466.35 L349.19,465.79 L350.3,465.25 L351.41,464.73 L352.52,464.21 L353.63,463.71 L354.75,463.23 L355.86,462.75 L356.97,462.28 L358.08,461.83 L359.19,461.39 L360.3,460.95 L361.42,460.53 L362.53,460.11 L363.64,459.71 L364.75,459.31 L365.86,458.92 L366.97,458.54 L368.08,458.17 L369.2,457.81 L370.31,457.46 L371.42,457.11 L372.53,456.77 L373.64,456.44 L374.75,456.11 L375.87,455.79 L376.98,455.48 L378.09,455.17 L379.2,454.87 L380.31,454.58 L381.42,454.29 L382.54,454.01 L383.65,453.74 L384.76,453.47 L385.87,453.2 L386.98,452.94 L388.09,452.69 L389.2,452.44 L390.32,452.2 L391.43,451.96 L392.54,451.73 L393.65,451.5 L394.76,451.27 L395.87,451.05 L396.99,450.84 L398.1,450.63 L399.21,450.42 L400.32,450.22 L401.43,450.02 L402.54,449.82 L403.66,449.63 L404.77,449.45 L405.88,449.26 L406.99,449.08 L408.1,448.91 L409.21,448.73 L410.32,448.56 L411.44,448.4 L412.55,448.23 L413.66,448.08 L414.77,447.92 L415.88,447.77 L416.99,447.62 L418.11,447.47 L419.22,447.32 L420.33,447.18 L421.44,447.04 L422.55,446.91 L423.66,446.77 L424.78,446.64 L425.89,446.52 L427,446.39 L428.11,446.27 L429.22,446.15 L430.33,446.03 L431.44,445.91 L432.56,445.8 L433.67,445.69 L434.78,445.58 L435.89,445.47 L437,445.37 L438.11,445.26 L439.23,445.16 L440.34,445.06 L441.45,444.97 L442.56,444.87 L443.67,444.78 L444.78,444.69 L445.89,444.6 L447.01,444.51 L448.12,444.42 L449.23,444.34 L450.34,444.26 L451.45,444.17 L452.56,444.1 L453.68,444.02 L454.79,443.94 L455.9,443.87 L457.01,443.79 L458.12,443.72 L459.23,443.65 L460.35,443.58 L461.46,443.51 L462.57,443.45 L463.68,443.38 L464.79,443.32 L465.9,443.25 L467.01,443.19 L468.13,443.13 L469.24,443.07 L470.35,443.02 L471.46,442.96 L472.57,442.9 L473.68,442.85 L474.8,442.8 L475.91,442.74 L477.02,442.69 L478.13,442.64 L479.24,442.59 L480.35,442.54 L481.47,442.5 L482.58,442.45 L483.69,442.4 L484.8,442.36" fill="none" stroke="#000" stroke-width="2" stroke-linejoin="round" stroke-linecap="butt"/>
<path d="M300.8,522.4 L301.05,522.61 L301.3,522.81 L301.55,523.01 L301.8,523.2 L302.05,523.38 L302.3,523.56 L302.55,523.73 L302.8,523.9 L303.05,524.06 L303.3,524.22 L303.55,524.37 L303.8,524.52 L304.05,524.66 L304.3,524.81 L304.56,524.94 L304.81,525.08 L305.06,525.21 L305.31,525.34 L305.56,525.46 L305.81,525.59 L306.06,525.71 L306.31,525.82 L306.56,525.94 L306.81,526.05 L307.06,526.16 L307.31,526.27 L307.56,526.38 L307.81,526.48 L308.06,526.58 L309.17,527.02 L310.29,527.43 L311.4,527.82 L312.51,528.19 L313.62,528.54 L314.74,528.87 L315.85,529.19 L316.96,529.51 L318.08,529.81 L319.19,530.1 L320.3,530.38 L321.41,530.66 L322.53,530.92 L323.64,531.18 L324.75,531.43 L325.87,531.68 L326.98,531.92 L328.09,532.15 L329.2,532.38 L330.32,532.6 L331.43,532.82 L332.54,533.03 L333.66,533.23 L334.77,533.43 L335.88,533.63 L336.99,533.82 L338.11,534 L339.22,534.18 L340.33,534.36 L341.44,534.53 L342.56,534.7 L343.67,534.86 L344.78,535.02 L345.9,535.17 L347.01,535.33 L348.12,535.47 L349.23,535.62 L350.35,535.76 L351.46,535.89 L352.57,536.03 L353.69,536.16 L354.8,536.29 L355.91,536.41 L357.02,536.53 L358.14,536.65 L359.25,536.76 L360.36,536.87 L361.48,536.98 L362.59,537.09 L363.7,537.19 L364.81,537.29 L365.93,537.39 L367.04,537.49 L368.15,537.58 L369.27,537.67 L370.38,537.76 L371.49,537.85 L372.6,537.94 L373.72,538.02 L374.83,538.1 L375.94,538.18 L377.06,538.25 L378.17,538.33 L379.28,538.4 L380.39,538.47 L381.51,538.54 L382.62,538.61 L383.73,538.68 L384.85,538.74 L385.96,538.8 L387.07,538.86 L388.18,538.92 L389.3,538.98 L390.41,539.04 L391.52,539.09 L392.64,539.15 L393.75,539.2 L394.86,539.25 L395.97,539.3 L397.09,539.35 L398.2,539.4 L399.31,539.44 L400.42,539.49 L401.54,539.53 L402.65,539.58 L403.76,539.62 L404.88,539.66 L405.99,539.7 L407.1,539.74 L408.21,539.78 L409.33,539.81 L410.44,539.85 L411.55,539.88 L412.67,539.92 L413.78,539.95 L414.89,539.98 L416,540.02 L417.12,540.05 L418.23,540.08 L419.34,540.11 L420.46,540.14 L421.57,540.16 L422.68,540.19 L423.79,540.22 L424.91,540.24 L426.02,540.27 L427.13,540.29 L428.25,540.32 L429.36,540.34 L430.47,540.36 L431.58,540.39 L432.7,540.41 L433.81,540.43 L434.92,540.45 L436.04,540.47 L437.15,540.49 L438.26,540.51 L439.37,540.53 L440.49,540.55 L441.6,540.56 L442.71,540.58 L443.83,540.6 L444.94,540.62 L446.05,540.63 L447.16,540.65 L448.28,540.66 L449.39,540.68 L450.5,540.69 L451.62,540.71 L452.73,540.72 L453.84,540.73 L454.95,540.75 L456.07,540.76 L457.18,540.77 L458.29,540.78 L459.4,540.8 L460.52,540.81 L461.63,540.82 L462.74,540.83 L463.86,540.84 L464.97,540.85 L466.08,540.86 L467.19,540.87 L468.31,540.88 L469.42,540.89 L470.53,540.9 L471.65,540.91 L472.76,540.92 L473.87,540.93 L474.98,540.94 L476.1,540.94 L477.21,540.95 L478.32,540.96 L479.44,540.97 L480.55,540.97 L481.66,540.98 L482.77,540.99 L483.89,541 L485,541" fill="none" stroke="#000" stroke-width="2" stroke-linejoin="round" stroke-linecap="butt"/>
</svg>
</body></html>
